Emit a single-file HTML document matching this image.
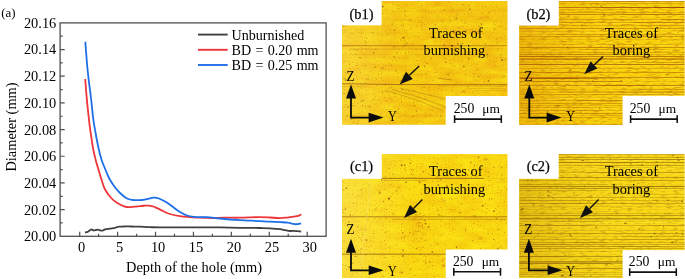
<!DOCTYPE html>
<html><head><meta charset="utf-8"><title>Figure</title>
<style>html,body{margin:0;padding:0;background:#fff;}body{width:685px;height:279px;position:relative;overflow:hidden}</style>
</head><body>
<svg width="685" height="279" viewBox="0 0 685 279" style="position:absolute;left:0;top:0;font-family:'Liberation Serif','DejaVu Serif',serif;font-size:14.4px">
<rect width="685" height="279" fill="#fff"/>
<g id="plot">
<path d="M85.0,232.5C85.5,232.4 87.0,232.2 88.0,231.7C89.0,231.2 90.2,229.8 91.0,229.5C91.8,229.2 92.0,229.7 92.5,229.9C93.0,230.1 93.4,230.5 94.0,230.5C94.6,230.5 95.3,230.1 96.0,230.0C96.7,229.9 97.3,229.6 98.0,229.7C98.7,229.8 99.3,230.1 100.0,230.3C100.7,230.5 101.3,230.8 102.0,230.7C102.7,230.6 103.3,230.1 104.0,229.8C104.7,229.5 105.0,229.3 106.0,229.1C107.0,228.9 108.7,228.8 110.0,228.6C111.3,228.4 112.8,228.3 114.0,228.1C115.2,227.9 116.2,227.4 117.0,227.2C117.8,227.0 117.8,226.8 119.0,226.7C120.2,226.6 122.5,226.6 124.0,226.5C125.5,226.4 126.3,226.3 128.0,226.3C129.7,226.3 132.0,226.5 134.0,226.6C136.0,226.7 137.3,226.6 140.0,226.7C142.7,226.8 146.7,227.1 150.0,227.2C153.3,227.3 155.0,227.4 160.0,227.4C165.0,227.4 173.3,227.4 180.0,227.4C186.7,227.4 193.3,227.4 200.0,227.4C206.7,227.4 213.3,227.3 220.0,227.4C226.7,227.5 233.3,227.7 240.0,227.8C246.7,227.9 255.0,227.9 260.0,228.0C265.0,228.1 266.7,228.1 270.0,228.3C273.3,228.5 277.5,228.8 280.0,229.1C282.5,229.4 283.3,229.9 285.0,230.2C286.7,230.5 288.5,230.9 290.0,231.0C291.5,231.1 292.8,230.9 294.0,230.9C295.2,230.9 295.8,231.1 297.0,231.2C298.2,231.3 300.5,231.5 301.2,231.6" fill="none" stroke="#404040" stroke-width="1.8" stroke-linejoin="round" stroke-linecap="butt"/>
<path d="M85.2,79.0C85.4,81.2 85.8,87.5 86.2,92.0C86.6,96.5 87.0,101.3 87.5,106.0C88.0,110.7 88.5,115.5 89.0,120.0C89.5,124.5 90.0,128.3 90.7,133.0C91.4,137.7 92.2,143.5 93.0,148.0C93.8,152.5 94.8,156.3 95.7,160.0C96.6,163.7 97.7,167.0 98.6,170.0C99.5,173.0 100.0,174.8 101.0,178.0C102.0,181.2 103.1,185.7 104.8,189.0C106.5,192.3 109.1,195.7 111.2,198.0C113.3,200.3 115.0,201.7 117.3,203.1C119.6,204.5 122.6,205.9 124.8,206.6C127.0,207.3 128.6,207.1 130.5,207.1C132.4,207.1 134.4,206.8 136.0,206.6C137.6,206.4 138.5,206.2 140.0,206.1C141.5,205.9 143.5,205.8 145.0,205.7C146.5,205.6 147.7,205.6 149.0,205.7C150.3,205.8 151.8,206.2 153.0,206.5C154.2,206.8 154.3,206.9 156.0,207.7C157.7,208.4 160.7,209.9 163.0,211.0C165.3,212.1 167.2,213.2 170.0,214.0C172.8,214.8 176.7,215.6 180.0,216.1C183.3,216.6 186.7,216.8 190.0,217.1C193.3,217.4 196.3,217.5 200.0,217.7C203.7,217.9 208.0,218.1 212.0,218.1C216.0,218.1 219.3,217.8 224.0,217.7C228.7,217.6 234.0,217.8 240.0,217.7C246.0,217.6 255.0,217.1 260.0,217.1C265.0,217.1 266.7,217.3 270.0,217.5C273.3,217.7 277.3,218.1 280.0,218.1C282.7,218.1 284.3,217.9 286.0,217.7C287.7,217.5 288.7,217.3 290.0,217.1C291.3,216.9 292.8,216.9 294.0,216.7C295.2,216.5 296.1,216.3 297.0,216.1C297.9,215.9 298.8,215.6 299.5,215.3C300.2,215.0 300.9,214.5 301.2,214.3" fill="none" stroke="#ee363a" stroke-width="1.8" stroke-linejoin="round" stroke-linecap="butt"/>
<path d="M85.4,41.7C85.4,42.4 85.4,43.6 85.6,46.0C85.8,48.4 86.1,52.0 86.4,56.0C86.7,60.0 87.1,65.3 87.6,70.0C88.1,74.7 88.6,79.3 89.2,84.0C89.8,88.7 90.3,92.0 91.0,98.0C91.7,104.0 92.6,114.2 93.4,120.0C94.2,125.8 94.8,128.3 95.6,133.0C96.4,137.7 97.5,143.5 98.5,148.0C99.5,152.5 100.4,156.3 101.6,160.0C102.8,163.7 104.4,167.0 105.6,170.0C106.8,173.0 107.6,175.3 109.0,178.0C110.4,180.7 112.2,183.5 114.0,186.0C115.8,188.5 117.8,190.9 120.0,193.0C122.2,195.1 124.8,197.3 127.0,198.5C129.2,199.7 131.2,199.7 133.0,200.0C134.8,200.3 136.5,200.2 138.0,200.2C139.5,200.2 140.3,200.2 142.0,200.0C143.7,199.8 146.2,199.3 148.0,198.9C149.8,198.5 151.7,197.9 153.0,197.7C154.3,197.5 155.0,197.7 156.0,197.8C157.0,197.9 157.3,197.8 159.0,198.5C160.7,199.2 163.7,200.6 166.0,202.0C168.3,203.4 170.7,205.3 173.0,207.0C175.3,208.7 177.7,210.6 180.0,212.0C182.3,213.4 184.7,214.7 187.0,215.5C189.3,216.3 191.5,216.6 194.0,216.9C196.5,217.2 199.3,217.1 202.0,217.2C204.7,217.3 207.0,217.1 210.0,217.3C213.0,217.5 215.0,218.0 220.0,218.5C225.0,219.0 233.3,219.7 240.0,220.1C246.7,220.5 255.0,220.8 260.0,221.1C265.0,221.4 266.7,221.5 270.0,221.7C273.3,221.9 277.0,221.9 280.0,222.1C283.0,222.3 286.0,222.4 288.0,222.7C290.0,222.9 290.8,223.3 292.0,223.6C293.2,223.8 294.0,224.1 295.0,224.2C296.0,224.3 297.0,224.2 298.0,224.1C299.0,223.9 300.7,223.4 301.2,223.3" fill="none" stroke="#1f6fe8" stroke-width="1.8" stroke-linejoin="round" stroke-linecap="butt"/>
<rect x="60.1" y="22.9" width="266.0" height="213.4" fill="none" stroke="#505050" stroke-width="1.3"/>
<path d="M79.70,236.3v-4.6 M117.62,236.3v-4.6 M155.53,236.3v-4.6 M193.44,236.3v-4.6 M231.36,236.3v-4.6 M269.28,236.3v-4.6 M307.19,236.3v-4.6 M98.66,236.3v-2.6 M136.57,236.3v-2.6 M174.49,236.3v-2.6 M212.40,236.3v-2.6 M250.32,236.3v-2.6 M288.23,236.3v-2.6 M60.1,209.62h4.6 M60.1,182.94h4.6 M60.1,156.26h4.6 M60.1,129.58h4.6 M60.1,102.90h4.6 M60.1,76.22h4.6 M60.1,49.54h4.6 M60.1,222.96h2.6 M60.1,196.28h2.6 M60.1,169.60h2.6 M60.1,142.92h2.6 M60.1,116.24h2.6 M60.1,89.56h2.6 M60.1,62.88h2.6 M60.1,36.20h2.6" stroke="#505050" stroke-width="1.2" fill="none"/>
<text x="56.3" y="241.2" text-anchor="end">20.00</text>
<text x="56.3" y="214.5" text-anchor="end">20.02</text>
<text x="56.3" y="187.8" text-anchor="end">20.04</text>
<text x="56.3" y="161.2" text-anchor="end">20.06</text>
<text x="56.3" y="134.5" text-anchor="end">20.08</text>
<text x="56.3" y="107.8" text-anchor="end">20.10</text>
<text x="56.3" y="81.1" text-anchor="end">20.12</text>
<text x="56.3" y="54.4" text-anchor="end">20.14</text>
<text x="56.3" y="27.8" text-anchor="end">20.16</text>
<text x="81.7" y="252.3" text-anchor="middle">0</text>
<text x="119.6" y="252.3" text-anchor="middle">5</text>
<text x="158.1" y="252.3" text-anchor="middle">10</text>
<text x="196.0" y="252.3" text-anchor="middle">15</text>
<text x="234.0" y="252.3" text-anchor="middle">20</text>
<text x="271.9" y="252.3" text-anchor="middle">25</text>
<text x="309.8" y="252.3" text-anchor="middle">30</text>
<text x="194.0" y="272.2" text-anchor="middle">Depth of the hole (mm)</text>
<text transform="translate(15.8,127.0) rotate(-90)" text-anchor="middle">Diameter (mm)</text>
<text x="1.2" y="17.3" font-size="12.9">(a)</text>
<path d="M198,34.6H227.7" stroke="#404040" stroke-width="1.9"/>
<text x="231.5" y="39.6" font-size="14.1" style="word-spacing:0.8px">Unburnished</text>
<path d="M198,49.8H227.7" stroke="#ee3338" stroke-width="1.9"/>
<text x="231.5" y="54.8" font-size="14.1" style="word-spacing:0.8px">BD = 0.20 mm</text>
<path d="M198,65.0H227.7" stroke="#1f6fe8" stroke-width="1.9"/>
<text x="231.5" y="70.0" font-size="14.1" style="word-spacing:0.8px">BD = 0.25 mm</text>
</g>
<defs>
<filter id="fb1" x="0" y="0" width="100%" height="100%" color-interpolation-filters="sRGB"><feTurbulence type="fractalNoise" baseFrequency="0.05 0.14" numOctaves="3" seed="5" result="n"/><feColorMatrix in="n" type="matrix" values="0.03 0 0 0 0.945  0.20 0 0 0 0.685  0.03 0 0 0 0.055  0 0 0 0 1"/></filter>
<filter id="fc1" x="0" y="0" width="100%" height="100%" color-interpolation-filters="sRGB"><feTurbulence type="fractalNoise" baseFrequency="0.05 0.12" numOctaves="3" seed="11" result="n"/><feColorMatrix in="n" type="matrix" values="0.02 0 0 0 0.965  0.14 0 0 0 0.775  0.03 0 0 0 0.05  0 0 0 0 1"/></filter>
<filter id="gr1" x="0" y="0" width="100%" height="100%" color-interpolation-filters="sRGB"><feTurbulence type="fractalNoise" baseFrequency="0.75" numOctaves="2" seed="4" result="n"/><feColorMatrix in="n" type="matrix" values="0 0 0 0 0.80  0 0 0 0 0.50  0 0 0 0 0.04  3.6 0 0 0 -2.3"/></filter>
<filter id="gr2" x="0" y="0" width="100%" height="100%" color-interpolation-filters="sRGB"><feTurbulence type="fractalNoise" baseFrequency="0.75" numOctaves="2" seed="14" result="n"/><feColorMatrix in="n" type="matrix" values="0 0 0 0 0.84  0 0 0 0 0.52  0 0 0 0 0.04  3.6 0 0 0 -2.3"/></filter>
<filter id="fl" x="0" y="0" width="100%" height="100%" color-interpolation-filters="sRGB"><feTurbulence type="fractalNoise" baseFrequency="0.15 0.7" numOctaves="2" seed="2" result="n"/><feColorMatrix in="n" type="matrix" values="0 0 0 0 0.70  0 0 0 0 0.42  0 0 0 0 0.02  1.5 0 0 0 -0.72"/></filter>
<filter id="fl2" x="0" y="0" width="100%" height="100%" color-interpolation-filters="sRGB"><feTurbulence type="fractalNoise" baseFrequency="0.15 0.7" numOctaves="2" seed="9" result="n"/><feColorMatrix in="n" type="matrix" values="0 0 0 0 0.68  0 0 0 0 0.50  0 0 0 0 0.03  1.5 0 0 0 -0.74"/></filter>
<linearGradient id="gb1" x1="0" x2="1" y1="0" y2="0"><stop offset="0" stop-color="#fde46a" stop-opacity="0.35"/><stop offset="1" stop-color="#fde46a" stop-opacity="0"/></linearGradient>
<linearGradient id="gc1" x1="0" x2="1" y1="0" y2="0"><stop offset="0" stop-color="#fbe870" stop-opacity="0.45"/><stop offset="1" stop-color="#fbe870" stop-opacity="0"/></linearGradient>
<radialGradient id="rc1"><stop offset="0" stop-color="#e88a10" stop-opacity="0.18"/><stop offset="1" stop-color="#ee9a10" stop-opacity="0"/></radialGradient>
<linearGradient id="gb2" x1="0" x2="1" y1="0" y2="0"><stop offset="0" stop-color="#c87000" stop-opacity="0.28"/><stop offset="0.2" stop-color="#c87000" stop-opacity="0.14"/><stop offset="0.45" stop-color="#c87000" stop-opacity="0.03"/><stop offset="0.7" stop-color="#c87000" stop-opacity="0"/></linearGradient>
<linearGradient id="gc2" x1="0" x2="1" y1="0" y2="0"><stop offset="0" stop-color="#a06800" stop-opacity="0.24"/><stop offset="0.3" stop-color="#a06800" stop-opacity="0.08"/><stop offset="0.6" stop-color="#a06800" stop-opacity="0"/></linearGradient>
</defs>
<g id="b1">
<rect x="342" y="1.1" width="165.3" height="123.4" fill="#f4bd1c"/>
<clipPath id="cpb1"><rect x="342" y="1.1" width="165.3" height="123.4"/></clipPath><g clip-path="url(#cpb1)">
<rect x="342" y="1.1" width="165.3" height="123.4" filter="url(#fb1)" />
<rect x="342" y="1" width="60" height="124" fill="url(#gb1)"/><path d="M385,90.5Q412,97 443,111M392,89.5Q420,96 449,108.5M400,88Q440,98 470,104" stroke="#a87414" stroke-width="0.7" fill="none" opacity="0.6"/>
<rect x="342" y="1.1" width="165.3" height="123.4" filter="url(#gr1)" />
<ellipse cx="381.9" cy="68.2" rx="1.5" ry="1.2" fill="#b07010" opacity="0.23"/>
<ellipse cx="353.7" cy="3.7" rx="2.2" ry="0.9" fill="#b07010" opacity="0.16"/>
<ellipse cx="505.6" cy="59.2" rx="2.2" ry="1.1" fill="#b07010" opacity="0.24"/>
<ellipse cx="367.6" cy="79.2" rx="2.2" ry="1.1" fill="#b07010" opacity="0.25"/>
<ellipse cx="452.6" cy="9.9" rx="2.1" ry="1.2" fill="#b07010" opacity="0.17"/>
<ellipse cx="348.1" cy="107.2" rx="1.7" ry="1.3" fill="#b07010" opacity="0.28"/>
<ellipse cx="459.6" cy="113.9" rx="1.6" ry="1.3" fill="#b07010" opacity="0.20"/>
<ellipse cx="495.8" cy="108.8" rx="1.1" ry="0.8" fill="#b07010" opacity="0.16"/>
<ellipse cx="500.7" cy="55.1" rx="1.9" ry="0.9" fill="#b07010" opacity="0.21"/>
<ellipse cx="406.0" cy="44.7" rx="1.8" ry="1.2" fill="#b07010" opacity="0.28"/>
<ellipse cx="454.4" cy="114.9" rx="2.2" ry="1.5" fill="#b07010" opacity="0.24"/>
<ellipse cx="369.6" cy="106.6" rx="2.4" ry="1.4" fill="#b07010" opacity="0.22"/>
<ellipse cx="459.6" cy="27.7" rx="2.2" ry="1.2" fill="#b07010" opacity="0.17"/>
<ellipse cx="353.4" cy="105.8" rx="2.4" ry="0.8" fill="#b07010" opacity="0.26"/>
<ellipse cx="410.0" cy="20.4" rx="1.4" ry="1.3" fill="#b07010" opacity="0.28"/>
<ellipse cx="350.2" cy="76.7" rx="1.1" ry="1.3" fill="#b07010" opacity="0.18"/>
<ellipse cx="486.9" cy="121.1" rx="1.7" ry="1.5" fill="#b07010" opacity="0.18"/>
<ellipse cx="355.6" cy="74.9" rx="1.0" ry="0.9" fill="#b07010" opacity="0.19"/>
<ellipse cx="442.7" cy="21.1" rx="1.1" ry="1.4" fill="#b07010" opacity="0.18"/>
<ellipse cx="499.5" cy="111.0" rx="1.5" ry="1.1" fill="#b07010" opacity="0.21"/>
<ellipse cx="448.1" cy="74.4" rx="1.8" ry="1.2" fill="#b07010" opacity="0.29"/>
<ellipse cx="425.8" cy="54.4" rx="2.0" ry="0.9" fill="#b07010" opacity="0.17"/>
<ellipse cx="502.7" cy="65.4" rx="1.8" ry="0.7" fill="#b07010" opacity="0.19"/>
<ellipse cx="437.7" cy="4.5" rx="1.9" ry="1.2" fill="#b07010" opacity="0.13"/>
<ellipse cx="445.4" cy="58.7" rx="2.0" ry="1.0" fill="#b07010" opacity="0.25"/>
<ellipse cx="463.5" cy="4.8" rx="1.1" ry="1.2" fill="#b07010" opacity="0.29"/>
<ellipse cx="384.0" cy="57.5" rx="1.8" ry="1.0" fill="#b07010" opacity="0.19"/>
<ellipse cx="394.1" cy="46.9" rx="1.8" ry="0.9" fill="#b07010" opacity="0.19"/>
<ellipse cx="469.1" cy="5.4" rx="1.8" ry="1.3" fill="#b07010" opacity="0.18"/>
<ellipse cx="379.3" cy="99.7" rx="1.3" ry="0.8" fill="#b07010" opacity="0.20"/>
<ellipse cx="457.0" cy="14.5" rx="1.5" ry="1.0" fill="#b07010" opacity="0.27"/>
<ellipse cx="414.6" cy="106.0" rx="1.2" ry="1.0" fill="#b07010" opacity="0.24"/>
<ellipse cx="487.5" cy="56.9" rx="1.3" ry="0.8" fill="#b07010" opacity="0.22"/>
<ellipse cx="374.2" cy="100.0" rx="2.2" ry="0.8" fill="#b07010" opacity="0.17"/>
<ellipse cx="474.8" cy="80.0" rx="2.1" ry="1.0" fill="#b07010" opacity="0.14"/>
<ellipse cx="390.7" cy="98.5" rx="1.4" ry="1.0" fill="#b07010" opacity="0.20"/>
<ellipse cx="411.5" cy="51.8" rx="2.3" ry="0.8" fill="#b07010" opacity="0.12"/>
<ellipse cx="497.0" cy="108.9" rx="2.4" ry="1.0" fill="#b07010" opacity="0.29"/>
<path d="M342,45.7L507,45.7" stroke="#b06810" stroke-width="0.9" opacity="0.8"/>
<path d="M350,49.1L425,49.1" stroke="#b87414" stroke-width="0.7" opacity="0.6"/>
<path d="M425,49.1L507,49.1" stroke="#c08414" stroke-width="0.6" opacity="0.35"/>
<path d="M342,83.7L400,84.6" stroke="#a86810" stroke-width="1.0" opacity="0.85"/>
<path d="M400,84.6L507,84.6" stroke="#a86810" stroke-width="1.0" opacity="0.85"/>
<path d="M342,86.6L366,86.8" stroke="#c08414" stroke-width="0.6" opacity="0.45"/>
<path d="M437,85.8L507,86.2" stroke="#b07410" stroke-width="0.6" opacity="0.5"/>
<path d="M468,88.3L507,88.3" stroke="#b07410" stroke-width="0.6" opacity="0.5"/>
<path d="M476,90.3L507,90.3" stroke="#b07410" stroke-width="0.6" opacity="0.45"/>
<path d="M438,78.2L452,80.0" stroke="#a06010" stroke-width="0.8" opacity="0.6"/>
<path d="M342,54.8L507,54.8" stroke="#c89018" stroke-width="0.5" opacity="0.35"/>
<path d="M342,57.2L507,57.2" stroke="#c89018" stroke-width="0.5" opacity="0.25"/>
<path d="M342,33L507,33" stroke="#c89018" stroke-width="0.5" opacity="0.3"/>
<path d="M342,116L445,116" stroke="#c89018" stroke-width="0.6" opacity="0.4"/>
<path d="M342,11L507,11" stroke="#c89018" stroke-width="0.5" opacity="0.3"/>
<path d="M342,20L507,20" stroke="#c89018" stroke-width="0.5" opacity="0.3"/>
<circle cx="494.4" cy="29.1" r="0.7" fill="#94580c" opacity="0.86"/>
<circle cx="451.3" cy="65.1" r="0.45" fill="#a86c10" opacity="0.59"/>
<circle cx="380.1" cy="10.4" r="0.6" fill="#b87414" opacity="0.47"/>
<circle cx="382.9" cy="6.4" r="0.9" fill="#a86c10" opacity="0.91"/>
<circle cx="489.4" cy="111.3" r="0.6" fill="#b07010" opacity="0.41"/>
<circle cx="464.7" cy="23.0" r="0.45" fill="#a06410" opacity="0.76"/>
<circle cx="428.7" cy="52.3" r="0.6" fill="#b07010" opacity="0.59"/>
<circle cx="384.2" cy="106.7" r="0.5" fill="#b07010" opacity="0.59"/>
<circle cx="375.2" cy="67.0" r="0.9" fill="#b07010" opacity="0.49"/>
<circle cx="472.3" cy="114.0" r="0.9" fill="#a06410" opacity="0.85"/>
<circle cx="344.2" cy="78.4" r="0.9" fill="#94580c" opacity="0.43"/>
<circle cx="387.3" cy="34.7" r="0.6" fill="#a86c10" opacity="0.63"/>
<circle cx="420.2" cy="96.4" r="0.35" fill="#b07010" opacity="0.83"/>
<circle cx="350.5" cy="8.1" r="0.5" fill="#b07010" opacity="0.87"/>
<circle cx="357.1" cy="63.1" r="0.45" fill="#a06410" opacity="0.57"/>
<circle cx="400.4" cy="80.6" r="0.6" fill="#b87414" opacity="0.60"/>
<circle cx="374.2" cy="42.0" r="0.35" fill="#a06410" opacity="0.71"/>
<circle cx="459.9" cy="48.3" r="0.35" fill="#a86c10" opacity="0.50"/>
<circle cx="404.0" cy="75.5" r="0.9" fill="#a86c10" opacity="0.61"/>
<circle cx="473.8" cy="77.7" r="0.5" fill="#b07010" opacity="0.60"/>
<circle cx="424.0" cy="87.4" r="0.5" fill="#94580c" opacity="0.65"/>
<circle cx="383.0" cy="67.2" r="0.7" fill="#a86c10" opacity="0.44"/>
<circle cx="412.4" cy="53.8" r="0.35" fill="#b87414" opacity="0.61"/>
<circle cx="489.6" cy="98.1" r="0.45" fill="#b07010" opacity="0.66"/>
<circle cx="363.1" cy="100.8" r="0.7" fill="#a86c10" opacity="0.84"/>
<circle cx="452.0" cy="91.2" r="0.6" fill="#a86c10" opacity="0.46"/>
<circle cx="439.0" cy="2.7" r="0.4" fill="#a06410" opacity="0.83"/>
<circle cx="350.2" cy="13.2" r="0.35" fill="#94580c" opacity="0.50"/>
<circle cx="346.8" cy="104.3" r="0.35" fill="#b07010" opacity="0.86"/>
<circle cx="453.0" cy="103.6" r="0.45" fill="#a86c10" opacity="0.56"/>
<circle cx="357.5" cy="123.0" r="0.6" fill="#a86c10" opacity="0.69"/>
<circle cx="381.9" cy="69.4" r="0.35" fill="#a86c10" opacity="0.43"/>
<circle cx="395.9" cy="70.6" r="0.9" fill="#b07010" opacity="0.53"/>
<circle cx="372.4" cy="32.4" r="0.6" fill="#94580c" opacity="0.54"/>
<circle cx="440.9" cy="116.1" r="0.6" fill="#94580c" opacity="0.93"/>
<circle cx="404.3" cy="30.7" r="0.5" fill="#a06410" opacity="0.63"/>
<circle cx="435.8" cy="72.5" r="0.6" fill="#94580c" opacity="0.49"/>
<circle cx="408.5" cy="109.8" r="0.4" fill="#b07010" opacity="0.67"/>
<circle cx="422.0" cy="86.9" r="0.5" fill="#a86c10" opacity="0.80"/>
<circle cx="373.4" cy="34.6" r="0.4" fill="#a06410" opacity="0.72"/>
<circle cx="394.4" cy="30.3" r="0.7" fill="#a86c10" opacity="0.92"/>
<circle cx="391.3" cy="87.7" r="0.5" fill="#a86c10" opacity="0.87"/>
<circle cx="438.5" cy="34.5" r="0.4" fill="#b87414" opacity="0.41"/>
<circle cx="421.3" cy="48.6" r="0.4" fill="#a86c10" opacity="0.60"/>
<circle cx="395.6" cy="96.1" r="0.4" fill="#94580c" opacity="0.95"/>
<circle cx="421.3" cy="74.8" r="0.5" fill="#a86c10" opacity="0.86"/>
<circle cx="477.2" cy="69.7" r="0.5" fill="#b07010" opacity="0.87"/>
<circle cx="408.4" cy="91.2" r="0.35" fill="#94580c" opacity="0.90"/>
<circle cx="488.5" cy="80.8" r="0.9" fill="#b07010" opacity="0.93"/>
<circle cx="482.4" cy="31.5" r="0.4" fill="#b87414" opacity="0.48"/>
<circle cx="444.6" cy="84.1" r="0.35" fill="#b87414" opacity="0.49"/>
<circle cx="350.4" cy="24.3" r="0.35" fill="#b07010" opacity="0.46"/>
<circle cx="386.1" cy="113.0" r="0.35" fill="#b87414" opacity="0.65"/>
<circle cx="462.9" cy="43.0" r="0.35" fill="#b87414" opacity="0.58"/>
<circle cx="405.0" cy="11.6" r="0.7" fill="#a86c10" opacity="0.81"/>
<circle cx="423.0" cy="17.3" r="0.45" fill="#b07010" opacity="0.89"/>
<circle cx="355.5" cy="54.6" r="0.5" fill="#a86c10" opacity="0.90"/>
<circle cx="358.8" cy="116.4" r="0.45" fill="#b87414" opacity="0.82"/>
<circle cx="391.3" cy="84.2" r="0.7" fill="#b87414" opacity="0.46"/>
<circle cx="497.2" cy="43.2" r="0.6" fill="#a86c10" opacity="0.69"/>
<circle cx="451.9" cy="63.9" r="0.35" fill="#b87414" opacity="0.77"/>
<circle cx="435.5" cy="24.2" r="0.7" fill="#a06410" opacity="0.50"/>
<circle cx="488.3" cy="81.7" r="0.35" fill="#b07010" opacity="0.91"/>
<circle cx="366.1" cy="42.3" r="0.7" fill="#a86c10" opacity="0.63"/>
<circle cx="392.1" cy="24.8" r="0.5" fill="#b87414" opacity="0.83"/>
<circle cx="458.2" cy="15.1" r="0.4" fill="#a86c10" opacity="0.70"/>
<circle cx="463.8" cy="45.7" r="0.45" fill="#b87414" opacity="0.61"/>
<circle cx="485.5" cy="7.2" r="0.6" fill="#b87414" opacity="0.54"/>
<circle cx="468.6" cy="45.1" r="0.45" fill="#94580c" opacity="0.65"/>
<circle cx="475.1" cy="10.5" r="0.5" fill="#b07010" opacity="0.48"/>
<circle cx="439.4" cy="84.8" r="0.6" fill="#b07010" opacity="0.50"/>
<circle cx="373.9" cy="52.7" r="0.7" fill="#94580c" opacity="0.85"/>
<circle cx="465.3" cy="74.0" r="0.4" fill="#94580c" opacity="0.84"/>
<circle cx="432.0" cy="22.8" r="0.4" fill="#a06410" opacity="0.88"/>
<circle cx="403.4" cy="37.7" r="0.9" fill="#94580c" opacity="0.89"/>
<circle cx="498.0" cy="48.6" r="0.6" fill="#a86c10" opacity="0.57"/>
<circle cx="424.3" cy="66.3" r="0.7" fill="#b87414" opacity="0.89"/>
<circle cx="452.0" cy="5.8" r="0.4" fill="#b07010" opacity="0.46"/>
<circle cx="466.4" cy="30.5" r="0.4" fill="#a86c10" opacity="0.74"/>
<circle cx="375.5" cy="97.1" r="0.4" fill="#b07010" opacity="0.85"/>
<circle cx="494.2" cy="117.0" r="0.35" fill="#a86c10" opacity="0.56"/>
<circle cx="450.4" cy="20.6" r="0.5" fill="#b07010" opacity="0.74"/>
<circle cx="351.3" cy="45.8" r="0.4" fill="#a86c10" opacity="0.44"/>
<circle cx="431.0" cy="115.0" r="0.45" fill="#b87414" opacity="0.88"/>
<circle cx="456.4" cy="18.4" r="0.9" fill="#a86c10" opacity="0.83"/>
<circle cx="348.5" cy="11.8" r="0.45" fill="#a06410" opacity="0.91"/>
<circle cx="483.7" cy="55.2" r="0.9" fill="#a06410" opacity="0.67"/>
<circle cx="360.8" cy="7.3" r="0.35" fill="#a06410" opacity="0.79"/>
<circle cx="406.9" cy="59.6" r="0.35" fill="#a86c10" opacity="0.87"/>
<circle cx="377.0" cy="61.5" r="0.35" fill="#94580c" opacity="0.65"/>
<circle cx="455.9" cy="55.3" r="0.5" fill="#b07010" opacity="0.80"/>
<circle cx="402.9" cy="47.1" r="0.6" fill="#b87414" opacity="0.73"/>
<circle cx="379.6" cy="2.4" r="0.4" fill="#b87414" opacity="0.83"/>
<circle cx="366.4" cy="57.9" r="0.4" fill="#a06410" opacity="0.52"/>
<circle cx="370.9" cy="51.1" r="0.4" fill="#b07010" opacity="0.48"/>
<circle cx="442.4" cy="55.8" r="0.4" fill="#b07010" opacity="0.86"/>
<circle cx="408.8" cy="40.7" r="0.35" fill="#b07010" opacity="0.53"/>
<circle cx="349.4" cy="62.0" r="0.4" fill="#a06410" opacity="0.45"/>
<circle cx="420.5" cy="22.1" r="0.6" fill="#b07010" opacity="0.59"/>
<circle cx="363.2" cy="8.4" r="0.7" fill="#b87414" opacity="0.55"/>
<circle cx="471.7" cy="58.6" r="0.45" fill="#94580c" opacity="0.54"/>
<circle cx="386.4" cy="101.0" r="0.7" fill="#b87414" opacity="0.57"/>
<circle cx="352.3" cy="55.0" r="0.35" fill="#a86c10" opacity="0.74"/>
<circle cx="360.1" cy="84.8" r="0.35" fill="#a06410" opacity="0.68"/>
<circle cx="421.7" cy="25.1" r="0.6" fill="#b87414" opacity="0.51"/>
<circle cx="502.0" cy="60.0" r="0.9" fill="#94580c" opacity="0.90"/>
<circle cx="496.5" cy="6.3" r="0.45" fill="#a86c10" opacity="0.75"/>
<circle cx="407.4" cy="117.1" r="0.4" fill="#94580c" opacity="0.46"/>
<circle cx="406.7" cy="42.7" r="0.7" fill="#94580c" opacity="0.50"/>
<circle cx="463.8" cy="91.2" r="0.9" fill="#a86c10" opacity="0.60"/>
<circle cx="373.0" cy="99.4" r="0.5" fill="#a06410" opacity="0.64"/>
<circle cx="457.8" cy="44.0" r="0.9" fill="#a06410" opacity="0.68"/>
<circle cx="465.9" cy="113.2" r="0.7" fill="#94580c" opacity="0.92"/>
<circle cx="350.0" cy="22.9" r="0.9" fill="#b07010" opacity="0.85"/>
<circle cx="358.0" cy="86.1" r="0.7" fill="#b07010" opacity="0.58"/>
<circle cx="441.1" cy="99.4" r="0.35" fill="#a86c10" opacity="0.88"/>
<circle cx="416.5" cy="111.0" r="0.7" fill="#b87414" opacity="0.95"/>
<circle cx="343.3" cy="25.8" r="0.9" fill="#b07010" opacity="0.59"/>
<circle cx="393.8" cy="56.8" r="0.9" fill="#a06410" opacity="0.53"/>
<circle cx="351.0" cy="20.6" r="0.7" fill="#a06410" opacity="0.72"/>
<circle cx="344.9" cy="30.0" r="0.4" fill="#a06410" opacity="0.87"/>
<circle cx="427.2" cy="63.4" r="0.6" fill="#b87414" opacity="0.83"/>
<circle cx="430.4" cy="24.9" r="0.4" fill="#a86c10" opacity="0.44"/>
<circle cx="477.8" cy="15.8" r="0.35" fill="#b07010" opacity="0.51"/>
<circle cx="488.9" cy="12.5" r="0.5" fill="#94580c" opacity="0.52"/>
<circle cx="478.5" cy="76.8" r="0.7" fill="#94580c" opacity="0.82"/>
<circle cx="485.3" cy="44.1" r="0.6" fill="#94580c" opacity="0.83"/>
<circle cx="390.7" cy="116.8" r="0.5" fill="#94580c" opacity="0.51"/>
<circle cx="431.0" cy="58.5" r="0.7" fill="#b07010" opacity="0.59"/>
<circle cx="374.3" cy="93.6" r="0.6" fill="#b87414" opacity="0.63"/>
<circle cx="448.9" cy="75.7" r="0.4" fill="#a06410" opacity="0.59"/>
<circle cx="505.6" cy="42.8" r="0.5" fill="#94580c" opacity="0.45"/>
<circle cx="378.6" cy="22.2" r="0.4" fill="#a06410" opacity="0.88"/>
<circle cx="504.1" cy="76.4" r="0.7" fill="#a86c10" opacity="0.87"/>
<circle cx="403.1" cy="25.3" r="0.6" fill="#94580c" opacity="0.67"/>
<circle cx="469.3" cy="51.5" r="0.6" fill="#b07010" opacity="0.56"/>
<circle cx="495.6" cy="24.5" r="0.35" fill="#b07010" opacity="0.80"/>
<circle cx="391.1" cy="65.2" r="0.7" fill="#94580c" opacity="0.42"/>
<circle cx="464.7" cy="35.6" r="0.5" fill="#b07010" opacity="0.59"/>
<circle cx="464.2" cy="92.8" r="0.45" fill="#a06410" opacity="0.46"/>
<circle cx="391.9" cy="52.0" r="0.35" fill="#a06410" opacity="0.48"/>
<circle cx="467.6" cy="87.1" r="0.5" fill="#b87414" opacity="0.92"/>
<circle cx="413.4" cy="116.2" r="0.5" fill="#a86c10" opacity="0.95"/>
<circle cx="379.4" cy="118.2" r="0.45" fill="#b87414" opacity="0.42"/>
<circle cx="404.0" cy="45.7" r="0.9" fill="#b87414" opacity="0.81"/>
<circle cx="494.9" cy="65.2" r="0.35" fill="#a06410" opacity="0.75"/>
<circle cx="367.4" cy="4.6" r="0.35" fill="#b07010" opacity="0.51"/>
<circle cx="468.7" cy="58.6" r="0.9" fill="#b87414" opacity="0.94"/>
<circle cx="348.7" cy="24.6" r="0.35" fill="#b87414" opacity="0.64"/>
<circle cx="398.2" cy="8.3" r="0.6" fill="#b07010" opacity="0.65"/>
<circle cx="385.7" cy="83.7" r="0.5" fill="#94580c" opacity="0.80"/>
<circle cx="398.4" cy="5.7" r="0.35" fill="#a06410" opacity="0.90"/>
<circle cx="475.0" cy="32.1" r="0.4" fill="#94580c" opacity="0.68"/>
<circle cx="478.7" cy="69.1" r="0.45" fill="#b07010" opacity="0.49"/>
<circle cx="345.8" cy="80.2" r="0.9" fill="#94580c" opacity="0.66"/>
<circle cx="451.7" cy="114.8" r="0.9" fill="#a86c10" opacity="0.68"/>
<circle cx="403.6" cy="78.8" r="0.45" fill="#a06410" opacity="0.44"/>
<circle cx="365.8" cy="103.1" r="0.35" fill="#94580c" opacity="0.83"/>
<circle cx="415.5" cy="35.9" r="0.45" fill="#94580c" opacity="0.56"/>
<circle cx="429.5" cy="72.2" r="0.4" fill="#a86c10" opacity="0.42"/>
<circle cx="422.3" cy="30.1" r="0.5" fill="#a86c10" opacity="0.74"/>
<circle cx="348.0" cy="71.8" r="0.6" fill="#b07010" opacity="0.67"/>
<circle cx="388.7" cy="88.2" r="0.45" fill="#b07010" opacity="0.64"/>
<circle cx="355.4" cy="6.2" r="0.5" fill="#94580c" opacity="0.51"/>
<circle cx="493.4" cy="24.1" r="0.5" fill="#94580c" opacity="0.57"/>
<circle cx="387.2" cy="117.4" r="0.45" fill="#b87414" opacity="0.74"/>
<circle cx="433.7" cy="6.4" r="0.5" fill="#b87414" opacity="0.63"/>
<circle cx="489.9" cy="62.2" r="0.4" fill="#b07010" opacity="0.78"/>
<circle cx="361.8" cy="78.9" r="0.35" fill="#b07010" opacity="0.92"/>
<circle cx="502.1" cy="86.1" r="0.5" fill="#b87414" opacity="0.94"/>
<circle cx="418.4" cy="37.2" r="0.6" fill="#b07010" opacity="0.50"/>
<circle cx="422.5" cy="22.5" r="0.4" fill="#a06410" opacity="0.78"/>
<circle cx="419.3" cy="50.4" r="0.35" fill="#a06410" opacity="0.62"/>
<circle cx="372.4" cy="78.2" r="0.45" fill="#a06410" opacity="0.76"/>
<circle cx="364.4" cy="19.9" r="0.6" fill="#a06410" opacity="0.69"/>
<circle cx="405.4" cy="15.1" r="0.5" fill="#a06410" opacity="0.94"/>
<circle cx="388.8" cy="18.0" r="0.4" fill="#b87414" opacity="0.47"/>
<circle cx="400.5" cy="113.2" r="0.35" fill="#a06410" opacity="0.40"/>
<circle cx="403.6" cy="19.4" r="0.5" fill="#a06410" opacity="0.44"/>
<circle cx="432.2" cy="110.8" r="0.35" fill="#b87414" opacity="0.66"/>
<circle cx="463.8" cy="66.5" r="0.9" fill="#94580c" opacity="0.71"/>
<circle cx="418.8" cy="67.4" r="0.5" fill="#a06410" opacity="0.69"/>
<circle cx="479.0" cy="26.4" r="0.6" fill="#b87414" opacity="0.91"/>
<circle cx="481.5" cy="23.9" r="0.9" fill="#a06410" opacity="0.57"/>
<circle cx="480.2" cy="17.9" r="0.6" fill="#b07010" opacity="0.63"/>
<circle cx="485.5" cy="16.0" r="0.35" fill="#a06410" opacity="0.88"/>
<circle cx="472.7" cy="122.5" r="0.7" fill="#b87414" opacity="0.69"/>
<circle cx="468.1" cy="13.3" r="0.6" fill="#a86c10" opacity="0.64"/>
<circle cx="366.9" cy="75.0" r="0.45" fill="#94580c" opacity="0.68"/>
<circle cx="404.0" cy="40.7" r="0.45" fill="#a86c10" opacity="0.82"/>
<circle cx="461.1" cy="43.9" r="0.7" fill="#b87414" opacity="0.56"/>
<circle cx="502.5" cy="34.8" r="0.35" fill="#a86c10" opacity="0.68"/>
<circle cx="462.6" cy="43.5" r="0.7" fill="#a06410" opacity="0.56"/>
<circle cx="500.9" cy="57.1" r="0.5" fill="#b87414" opacity="0.69"/>
<circle cx="485.9" cy="121.9" r="0.6" fill="#a86c10" opacity="0.64"/>
<circle cx="443.9" cy="10.5" r="0.5" fill="#a86c10" opacity="0.87"/>
<circle cx="470.0" cy="9.3" r="0.9" fill="#94580c" opacity="0.61"/>
<circle cx="503.2" cy="46.6" r="0.4" fill="#b07010" opacity="0.70"/>
<circle cx="487.3" cy="54.4" r="0.9" fill="#94580c" opacity="0.79"/>
<circle cx="402.0" cy="38.6" r="0.6" fill="#b87414" opacity="0.62"/>
<circle cx="403.8" cy="81.2" r="0.35" fill="#a86c10" opacity="0.67"/>
<circle cx="395.8" cy="2.1" r="0.35" fill="#a86c10" opacity="0.40"/>
<circle cx="487.6" cy="27.5" r="0.5" fill="#b87414" opacity="0.51"/>
<circle cx="347.6" cy="91.1" r="0.45" fill="#a86c10" opacity="0.64"/>
<circle cx="402.4" cy="89.6" r="0.9" fill="#a06410" opacity="0.64"/>
<circle cx="454.4" cy="16.8" r="0.5" fill="#a06410" opacity="0.66"/>
<circle cx="488.4" cy="36.9" r="0.4" fill="#b07010" opacity="0.85"/>
<circle cx="440.8" cy="12.4" r="0.35" fill="#b87414" opacity="0.61"/>
<circle cx="423.1" cy="121.8" r="0.5" fill="#b87414" opacity="0.48"/>
<circle cx="376.3" cy="79.3" r="0.6" fill="#b87414" opacity="0.64"/>
<circle cx="358.8" cy="121.0" r="0.7" fill="#b07010" opacity="0.44"/>
<circle cx="486.2" cy="92.7" r="0.45" fill="#b07010" opacity="0.87"/>
<circle cx="396.0" cy="112.9" r="0.7" fill="#b07010" opacity="0.85"/>
<circle cx="397.1" cy="52.9" r="0.6" fill="#a06410" opacity="0.89"/>
<circle cx="376.0" cy="49.7" r="0.35" fill="#b07010" opacity="0.75"/>
<circle cx="347.3" cy="115.6" r="0.6" fill="#a06410" opacity="0.72"/>
<circle cx="356.9" cy="30.3" r="0.5" fill="#a86c10" opacity="0.62"/>
<circle cx="399.2" cy="57.5" r="0.6" fill="#a06410" opacity="0.51"/>
<circle cx="391.8" cy="111.3" r="0.4" fill="#a86c10" opacity="0.69"/>
<circle cx="444.2" cy="45.2" r="0.9" fill="#a86c10" opacity="0.87"/>
<circle cx="463.5" cy="26.8" r="0.35" fill="#94580c" opacity="0.87"/>
<circle cx="445.8" cy="62.0" r="0.9" fill="#a06410" opacity="0.50"/>
<circle cx="359.9" cy="57.6" r="0.6" fill="#94580c" opacity="0.86"/>
<circle cx="394.5" cy="93.7" r="0.45" fill="#94580c" opacity="0.54"/>
<circle cx="486.7" cy="84.8" r="0.7" fill="#b07010" opacity="0.53"/>
<circle cx="402.9" cy="29.2" r="0.45" fill="#b87414" opacity="0.59"/>
<circle cx="351.6" cy="119.3" r="0.7" fill="#b07010" opacity="0.51"/>
<circle cx="392.6" cy="23.1" r="0.4" fill="#a06410" opacity="0.67"/>
<circle cx="377.1" cy="100.5" r="0.45" fill="#a86c10" opacity="0.53"/>
<circle cx="454.7" cy="66.5" r="0.6" fill="#a86c10" opacity="0.63"/>
</g>
<rect x="341.5" y="0.10000000000000009" width="40.1" height="25.2" fill="#fff"/>
<rect x="445.7" y="96.0" width="62.60000000000002" height="29.5" fill="#fff"/>
</g>
<g id="b2">
<rect x="519.2" y="1.1" width="165.19999999999993" height="123.7" fill="#f2c412"/>
<clipPath id="cpb2"><rect x="519.2" y="1.1" width="165.19999999999993" height="123.7"/></clipPath><g clip-path="url(#cpb2)">
<rect x="519.2" y="1.1" width="165.79999999999995" height="123.7" fill="#fad40c"/>
<rect x="519.2" y="1" width="83.8" height="1.0" fill="#98440c" opacity="0.39"/>
<rect x="602.7" y="1" width="41.9" height="1.0" fill="#98440c" opacity="0.51"/>
<rect x="644.3" y="1" width="41.0" height="1.0" fill="#98440c" opacity="0.40"/>
<rect x="519.2" y="2" width="165.79999999999995" height="1" fill="#ffe028" opacity="0.42"/>
<rect x="519.2" y="3" width="63.1" height="1.0" fill="#b06408" opacity="0.05"/>
<rect x="582.0" y="3" width="103.3" height="1.0" fill="#b06408" opacity="0.35"/>
<rect x="519.2" y="7" width="81.9" height="1.0" fill="#98440c" opacity="0.61"/>
<rect x="600.8" y="7" width="53.2" height="1.0" fill="#98440c" opacity="0.80"/>
<rect x="653.7" y="7" width="31.6" height="1.0" fill="#98440c" opacity="0.95"/>
<rect x="519.2" y="8" width="165.79999999999995" height="1" fill="#ffe028" opacity="0.38"/>
<rect x="519.2" y="9" width="65.6" height="1.0" fill="#a85008" opacity="0.25"/>
<rect x="584.5" y="9" width="54.6" height="1.0" fill="#a85008" opacity="0.22"/>
<rect x="638.8" y="9" width="46.5" height="1.0" fill="#a85008" opacity="0.05"/>
<rect x="519.2" y="12" width="41.2" height="1.0" fill="#a04808" opacity="0.40"/>
<rect x="560.1" y="12" width="109.7" height="1.0" fill="#a04808" opacity="0.31"/>
<rect x="669.5" y="12" width="15.8" height="1.0" fill="#a04808" opacity="0.24"/>
<rect x="519.2" y="14" width="103.0" height="1.0" fill="#b06408" opacity="0.37"/>
<rect x="621.9" y="14" width="63.4" height="1.0" fill="#b06408" opacity="0.64"/>
<rect x="519.2" y="15" width="165.79999999999995" height="1" fill="#ffe028" opacity="0.48"/>
<rect x="519.2" y="19" width="119.8" height="1.0" fill="#b05a0a" opacity="0.41"/>
<rect x="638.7" y="19" width="23.0" height="1.0" fill="#b05a0a" opacity="0.29"/>
<rect x="661.4" y="19" width="23.9" height="1.0" fill="#b05a0a" opacity="0.65"/>
<rect x="519.2" y="20" width="165.79999999999995" height="1" fill="#ffe028" opacity="0.55"/>
<rect x="519.2" y="22" width="75.9" height="1.0" fill="#b05a0a" opacity="0.55"/>
<rect x="594.8" y="22" width="38.4" height="1.0" fill="#b05a0a" opacity="0.36"/>
<rect x="632.9" y="22" width="52.4" height="1.0" fill="#b05a0a" opacity="0.67"/>
<rect x="519.2" y="23" width="165.79999999999995" height="1" fill="#ffe028" opacity="0.60"/>
<rect x="519.2" y="25" width="26.9" height="1.0" fill="#a04808" opacity="0.42"/>
<rect x="545.8" y="25" width="98.0" height="1.0" fill="#a04808" opacity="0.25"/>
<rect x="643.5" y="25" width="41.8" height="1.0" fill="#a04808" opacity="0.37"/>
<rect x="519.2" y="28" width="116.4" height="1.0" fill="#a04808" opacity="0.43"/>
<rect x="635.3" y="28" width="50.0" height="1.0" fill="#a04808" opacity="0.39"/>
<rect x="519.2" y="29" width="165.79999999999995" height="1" fill="#ffe028" opacity="0.42"/>
<rect x="519.2" y="31" width="64.2" height="1.0" fill="#a85008" opacity="0.21"/>
<rect x="583.1" y="31" width="102.2" height="1.0" fill="#a85008" opacity="0.07"/>
<rect x="519.2" y="32" width="165.79999999999995" height="1" fill="#ffe028" opacity="0.73"/>
<rect x="519.2" y="34" width="37.4" height="1.0" fill="#a04808" opacity="0.05"/>
<rect x="556.3" y="34" width="54.1" height="1.0" fill="#a04808" opacity="0.35"/>
<rect x="610.1" y="34" width="75.2" height="1.0" fill="#a04808" opacity="0.29"/>
<rect x="519.2" y="35" width="165.79999999999995" height="1" fill="#ffe028" opacity="0.43"/>
<rect x="519.2" y="39" width="110.2" height="1.0" fill="#a04808" opacity="0.13"/>
<rect x="629.1" y="39" width="35.7" height="1.0" fill="#a04808" opacity="0.14"/>
<rect x="664.5" y="39" width="20.8" height="1.0" fill="#a04808" opacity="0.18"/>
<rect x="519.2" y="44" width="79.1" height="1.0" fill="#b06408" opacity="0.19"/>
<rect x="598.0" y="44" width="87.3" height="1.0" fill="#b06408" opacity="0.28"/>
<rect x="519.2" y="45" width="165.79999999999995" height="1" fill="#ffe028" opacity="0.66"/>
<rect x="519.2" y="47" width="105.5" height="1.0" fill="#a04808" opacity="0.55"/>
<rect x="624.4" y="47" width="60.9" height="1.0" fill="#a04808" opacity="0.47"/>
<rect x="519.2" y="49" width="60.0" height="1.0" fill="#a85008" opacity="0.11"/>
<rect x="578.9" y="49" width="84.5" height="1.0" fill="#a85008" opacity="0.35"/>
<rect x="663.1" y="49" width="22.2" height="1.0" fill="#a85008" opacity="0.08"/>
<rect x="519.2" y="50" width="165.79999999999995" height="1" fill="#ffe028" opacity="0.45"/>
<rect x="519.2" y="52" width="82.4" height="1.0" fill="#a04808" opacity="0.26"/>
<rect x="601.3" y="52" width="84.0" height="1.0" fill="#a04808" opacity="0.26"/>
<rect x="519.2" y="54" width="107.7" height="1.0" fill="#b06408" opacity="0.63"/>
<rect x="626.6" y="54" width="58.7" height="1.0" fill="#b06408" opacity="0.32"/>
<rect x="519.2" y="55" width="165.79999999999995" height="1" fill="#ffe028" opacity="0.33"/>
<rect x="519.2" y="56" width="45.6" height="1.0" fill="#a04808" opacity="0.77"/>
<rect x="564.5" y="56" width="51.7" height="1.0" fill="#a04808" opacity="0.51"/>
<rect x="615.9" y="56" width="69.4" height="1.0" fill="#a04808" opacity="0.62"/>
<rect x="519.2" y="59" width="69.3" height="1.0" fill="#b06408" opacity="0.70"/>
<rect x="588.2" y="59" width="74.8" height="1.0" fill="#b06408" opacity="0.49"/>
<rect x="662.7" y="59" width="22.6" height="1.0" fill="#b06408" opacity="0.60"/>
<rect x="519.2" y="60" width="165.79999999999995" height="1" fill="#ffe028" opacity="0.45"/>
<rect x="519.2" y="62" width="118.0" height="1.0" fill="#b05a0a" opacity="0.14"/>
<rect x="636.9" y="62" width="48.4" height="1.0" fill="#b05a0a" opacity="0.40"/>
<rect x="519.2" y="63" width="165.79999999999995" height="1" fill="#ffe028" opacity="0.34"/>
<rect x="519.2" y="64" width="70.8" height="1.0" fill="#98440c" opacity="0.71"/>
<rect x="589.7" y="64" width="95.6" height="1.0" fill="#98440c" opacity="0.62"/>
<rect x="519.2" y="65" width="165.79999999999995" height="1" fill="#ffe028" opacity="0.56"/>
<rect x="519.2" y="68" width="25.2" height="1.0" fill="#a85008" opacity="0.18"/>
<rect x="544.1" y="68" width="45.0" height="1.0" fill="#a85008" opacity="0.29"/>
<rect x="588.8" y="68" width="96.5" height="1.0" fill="#a85008" opacity="0.30"/>
<rect x="519.2" y="69" width="165.79999999999995" height="1" fill="#ffe028" opacity="0.42"/>
<rect x="519.2" y="72" width="83.5" height="1.0" fill="#a04808" opacity="0.53"/>
<rect x="602.4" y="72" width="28.8" height="1.0" fill="#a04808" opacity="0.33"/>
<rect x="630.9" y="72" width="54.4" height="1.0" fill="#a04808" opacity="0.43"/>
<rect x="519.2" y="77" width="87.1" height="1.0" fill="#b06408" opacity="0.68"/>
<rect x="606.0" y="77" width="79.3" height="1.0" fill="#b06408" opacity="0.61"/>
<rect x="519.2" y="78" width="165.79999999999995" height="1" fill="#ffe028" opacity="0.76"/>
<rect x="519.2" y="81" width="102.8" height="1.0" fill="#98440c" opacity="0.52"/>
<rect x="621.7" y="81" width="63.6" height="1.0" fill="#98440c" opacity="0.13"/>
<rect x="519.2" y="82" width="165.79999999999995" height="1" fill="#ffe028" opacity="0.46"/>
<rect x="519.2" y="85" width="75.6" height="1.0" fill="#a85008" opacity="0.43"/>
<rect x="594.5" y="85" width="50.6" height="1.0" fill="#a85008" opacity="0.77"/>
<rect x="644.8" y="85" width="40.5" height="1.0" fill="#a85008" opacity="0.58"/>
<rect x="519.2" y="86" width="165.79999999999995" height="1" fill="#ffe028" opacity="0.78"/>
<rect x="519.2" y="89" width="57.5" height="1.0" fill="#b05a0a" opacity="0.31"/>
<rect x="576.4" y="89" width="39.2" height="1.0" fill="#b05a0a" opacity="0.11"/>
<rect x="615.3" y="89" width="23.2" height="1.0" fill="#b05a0a" opacity="0.28"/>
<rect x="638.1" y="89" width="47.2" height="1.0" fill="#b05a0a" opacity="0.46"/>
<rect x="519.2" y="92" width="91.9" height="1.0" fill="#b05a0a" opacity="0.15"/>
<rect x="610.8" y="92" width="74.5" height="1.0" fill="#b05a0a" opacity="0.25"/>
<rect x="519.2" y="93" width="165.79999999999995" height="1" fill="#ffe028" opacity="0.63"/>
<rect x="519.2" y="94" width="47.5" height="1.0" fill="#b06408" opacity="0.44"/>
<rect x="566.4" y="94" width="118.9" height="1.0" fill="#b06408" opacity="0.38"/>
<rect x="519.2" y="97" width="78.3" height="1.0" fill="#b06408" opacity="0.14"/>
<rect x="597.2" y="97" width="64.4" height="1.0" fill="#b06408" opacity="0.17"/>
<rect x="661.3" y="97" width="24.0" height="1.0" fill="#b06408" opacity="0.36"/>
<rect x="519.2" y="98" width="165.79999999999995" height="1" fill="#ffe028" opacity="0.79"/>
<rect x="519.2" y="100" width="57.3" height="1.0" fill="#a85008" opacity="0.27"/>
<rect x="576.2" y="100" width="109.1" height="1.0" fill="#a85008" opacity="0.55"/>
<rect x="519.2" y="101" width="165.79999999999995" height="1" fill="#ffe028" opacity="0.32"/>
<rect x="519.2" y="103" width="44.7" height="1.0" fill="#b06408" opacity="0.43"/>
<rect x="563.6" y="103" width="102.7" height="1.0" fill="#b06408" opacity="0.43"/>
<rect x="666.0" y="103" width="19.3" height="1.0" fill="#b06408" opacity="0.51"/>
<rect x="519.2" y="105" width="35.5" height="1.0" fill="#a04808" opacity="0.21"/>
<rect x="554.4" y="105" width="73.0" height="1.0" fill="#a04808" opacity="0.22"/>
<rect x="627.1" y="105" width="58.2" height="1.0" fill="#a04808" opacity="0.28"/>
<rect x="519.2" y="107" width="49.1" height="1.0" fill="#b05a0a" opacity="0.36"/>
<rect x="568.0" y="107" width="21.2" height="1.0" fill="#b05a0a" opacity="0.43"/>
<rect x="588.9" y="107" width="96.4" height="1.0" fill="#b05a0a" opacity="0.18"/>
<rect x="519.2" y="108" width="165.79999999999995" height="1" fill="#ffe028" opacity="0.71"/>
<rect x="519.2" y="110" width="36.5" height="1.0" fill="#a85008" opacity="0.34"/>
<rect x="555.4" y="110" width="47.8" height="1.0" fill="#a85008" opacity="0.42"/>
<rect x="602.9" y="110" width="60.2" height="1.0" fill="#a85008" opacity="0.12"/>
<rect x="662.9" y="110" width="22.4" height="1.0" fill="#a85008" opacity="0.25"/>
<rect x="519.2" y="111" width="165.79999999999995" height="1" fill="#ffe028" opacity="0.40"/>
<rect x="519.2" y="113" width="62.6" height="1.0" fill="#b06408" opacity="0.53"/>
<rect x="581.5" y="113" width="42.2" height="1.0" fill="#b06408" opacity="0.60"/>
<rect x="623.5" y="113" width="61.8" height="1.0" fill="#b06408" opacity="0.65"/>
<rect x="519.2" y="115" width="69.7" height="1.0" fill="#b05a0a" opacity="0.05"/>
<rect x="588.6" y="115" width="96.7" height="1.0" fill="#b05a0a" opacity="0.31"/>
<rect x="519.2" y="117" width="73.6" height="1.0" fill="#b06408" opacity="0.44"/>
<rect x="592.5" y="117" width="92.8" height="1.0" fill="#b06408" opacity="0.24"/>
<rect x="519.2" y="120" width="37.6" height="1.0" fill="#b05a0a" opacity="0.09"/>
<rect x="556.5" y="120" width="22.8" height="1.0" fill="#b05a0a" opacity="0.13"/>
<rect x="579.0" y="120" width="106.3" height="1.0" fill="#b05a0a" opacity="0.06"/>
<rect x="519.2" y="124" width="75.8" height="1.0" fill="#b06408" opacity="0.38"/>
<rect x="594.7" y="124" width="90.6" height="1.0" fill="#b06408" opacity="0.43"/>
<rect x="519.2" y="125" width="165.79999999999995" height="1" fill="#ffe028" opacity="0.34"/>
<rect x="519.5" y="78" width="58.5" height="1.0" fill="#98480a" opacity="0.85"/>
<rect x="578" y="78" width="20" height="1.0" fill="#98480a" opacity="0.6"/>
<rect x="598" y="78" width="27" height="1.0" fill="#98480a" opacity="0.3"/>
<rect x="519.5" y="36.2" width="165.5" height="0.8" fill="#a05408" opacity="0.5"/>
<rect x="519.5" y="58" width="165.5" height="0.8" fill="#a05408" opacity="0.5"/>
<rect x="560" y="91.5" width="125" height="0.8" fill="#a05408" opacity="0.5"/>
<rect x="560" y="14" width="125" height="0.8" fill="#a86408" opacity="0.45"/>
<rect x="519.2" y="1.1" width="165.79999999999995" height="123.7" filter="url(#fl)"/>
<ellipse cx="618.4" cy="44.9" rx="1.0" ry="0.7" fill="#7a4a08" opacity="0.59"/>
<ellipse cx="683.0" cy="113.1" rx="1.3" ry="0.7" fill="#7a4a08" opacity="0.79"/>
<ellipse cx="641.4" cy="92.4" rx="0.7" ry="0.6" fill="#7a4a08" opacity="0.49"/>
<ellipse cx="682.6" cy="38.1" rx="0.6" ry="0.7" fill="#7a4a08" opacity="0.61"/>
<ellipse cx="596.3" cy="62.3" rx="0.7" ry="0.5" fill="#7a4a08" opacity="0.39"/>
<ellipse cx="655.7" cy="29.1" rx="0.9" ry="0.4" fill="#7a4a08" opacity="0.73"/>
<ellipse cx="553.9" cy="98.1" rx="0.8" ry="0.6" fill="#7a4a08" opacity="0.45"/>
<ellipse cx="543.0" cy="28.7" rx="0.6" ry="0.5" fill="#7a4a08" opacity="0.32"/>
<ellipse cx="647.6" cy="107.6" rx="0.7" ry="0.7" fill="#7a4a08" opacity="0.53"/>
<ellipse cx="599.8" cy="108.0" rx="0.9" ry="0.7" fill="#7a4a08" opacity="0.64"/>
<ellipse cx="524.6" cy="113.6" rx="0.6" ry="0.5" fill="#7a4a08" opacity="0.48"/>
<ellipse cx="612.4" cy="56.6" rx="1.1" ry="0.4" fill="#7a4a08" opacity="0.43"/>
<ellipse cx="537.3" cy="81.9" rx="1.1" ry="0.6" fill="#7a4a08" opacity="0.36"/>
<ellipse cx="666.7" cy="74.6" rx="0.8" ry="0.7" fill="#7a4a08" opacity="0.67"/>
<ellipse cx="560.9" cy="17.9" rx="1.1" ry="0.8" fill="#7a4a08" opacity="0.35"/>
<ellipse cx="621.3" cy="80.7" rx="0.9" ry="0.5" fill="#7a4a08" opacity="0.69"/>
<ellipse cx="601.3" cy="6.0" rx="1.2" ry="0.8" fill="#7a4a08" opacity="0.56"/>
<ellipse cx="521.7" cy="104.7" rx="0.7" ry="0.5" fill="#7a4a08" opacity="0.71"/>
<ellipse cx="530.1" cy="94.1" rx="1.0" ry="0.6" fill="#7a4a08" opacity="0.80"/>
<ellipse cx="558.3" cy="87.8" rx="0.9" ry="0.6" fill="#7a4a08" opacity="0.57"/>
<ellipse cx="591.0" cy="4.7" rx="1.3" ry="0.5" fill="#7a4a08" opacity="0.50"/>
<ellipse cx="592.9" cy="81.0" rx="1.1" ry="0.6" fill="#7a4a08" opacity="0.52"/>
<ellipse cx="558.3" cy="105.8" rx="1.2" ry="0.7" fill="#7a4a08" opacity="0.69"/>
<ellipse cx="668.0" cy="93.3" rx="0.8" ry="0.5" fill="#7a4a08" opacity="0.31"/>
<ellipse cx="564.6" cy="86.4" rx="0.7" ry="0.8" fill="#7a4a08" opacity="0.53"/>
<ellipse cx="553.3" cy="3.4" rx="0.6" ry="0.5" fill="#7a4a08" opacity="0.58"/>
<ellipse cx="547.5" cy="80.4" rx="1.0" ry="0.4" fill="#7a4a08" opacity="0.36"/>
<ellipse cx="634.9" cy="27.4" rx="0.5" ry="0.7" fill="#7a4a08" opacity="0.41"/>
<ellipse cx="613.2" cy="31.9" rx="0.8" ry="0.7" fill="#7a4a08" opacity="0.76"/>
<ellipse cx="634.6" cy="101.0" rx="0.8" ry="0.8" fill="#7a4a08" opacity="0.70"/>
<ellipse cx="632.7" cy="109.7" rx="0.8" ry="0.6" fill="#7a4a08" opacity="0.32"/>
<ellipse cx="586.4" cy="100.3" rx="0.9" ry="0.4" fill="#7a4a08" opacity="0.62"/>
<ellipse cx="647.8" cy="33.4" rx="0.9" ry="0.5" fill="#7a4a08" opacity="0.71"/>
<ellipse cx="567.6" cy="47.3" rx="0.9" ry="0.5" fill="#7a4a08" opacity="0.76"/>
<ellipse cx="568.2" cy="16.1" rx="1.0" ry="0.6" fill="#7a4a08" opacity="0.71"/>
<ellipse cx="542.8" cy="89.9" rx="0.7" ry="0.6" fill="#7a4a08" opacity="0.43"/>
<ellipse cx="631.1" cy="112.4" rx="0.5" ry="0.7" fill="#7a4a08" opacity="0.71"/>
<ellipse cx="604.2" cy="15.0" rx="1.3" ry="0.5" fill="#7a4a08" opacity="0.74"/>
<ellipse cx="639.1" cy="7.8" rx="1.0" ry="0.6" fill="#7a4a08" opacity="0.52"/>
<ellipse cx="646.4" cy="4.4" rx="0.9" ry="0.5" fill="#7a4a08" opacity="0.41"/>
<ellipse cx="547.3" cy="119.4" rx="0.5" ry="0.7" fill="#7a4a08" opacity="0.73"/>
<ellipse cx="678.1" cy="32.4" rx="0.8" ry="0.7" fill="#7a4a08" opacity="0.39"/>
<ellipse cx="635.0" cy="111.5" rx="0.6" ry="0.5" fill="#7a4a08" opacity="0.37"/>
<ellipse cx="580.5" cy="112.0" rx="1.0" ry="0.5" fill="#7a4a08" opacity="0.68"/>
<ellipse cx="634.3" cy="91.6" rx="0.6" ry="0.4" fill="#7a4a08" opacity="0.66"/>
<ellipse cx="570.0" cy="70.2" rx="1.2" ry="0.7" fill="#7a4a08" opacity="0.66"/>
<ellipse cx="524.8" cy="72.4" rx="1.2" ry="0.5" fill="#7a4a08" opacity="0.79"/>
<ellipse cx="645.8" cy="30.2" rx="0.6" ry="0.4" fill="#7a4a08" opacity="0.41"/>
<ellipse cx="581.9" cy="25.2" rx="1.0" ry="0.7" fill="#7a4a08" opacity="0.41"/>
<ellipse cx="547.5" cy="111.9" rx="0.8" ry="0.8" fill="#7a4a08" opacity="0.68"/>
<rect x="519.2" y="1.1" width="165.79999999999995" height="123.7" fill="url(#gb2)"/>
</g>
<rect x="518.7" y="0.10000000000000009" width="40.1" height="25.5" fill="#fff"/>
<rect x="622.6" y="95.8" width="62.799999999999955" height="30.0" fill="#fff"/>
</g>
<g id="c1">
<rect x="342" y="154.3" width="165.3" height="123.5" fill="#f5cb1f"/>
<clipPath id="cpc1"><rect x="342" y="154.3" width="165.3" height="123.5"/></clipPath><g clip-path="url(#cpc1)">
<rect x="342" y="154.3" width="165.3" height="123.5" filter="url(#fc1)" />
<rect x="342" y="154" width="70" height="124" fill="url(#gc1)"/><ellipse cx="417" cy="228" rx="16" ry="24" fill="url(#rc1)"/><circle cx="389" cy="198.7" r="1.1" fill="#8a4a0c" opacity="0.8"/><circle cx="407.5" cy="215.5" r="0.9" fill="#a0500c" opacity="0.8"/><circle cx="414.0" cy="231.8" r="0.5" fill="#c4600c" opacity="0.44"/><circle cx="418.6" cy="231.2" r="0.8" fill="#c4600c" opacity="0.56"/><circle cx="416.3" cy="223.9" r="0.8" fill="#c4600c" opacity="0.43"/><circle cx="415.7" cy="214.9" r="0.6" fill="#c4600c" opacity="0.68"/><circle cx="419.5" cy="222.7" r="0.8" fill="#c4600c" opacity="0.61"/><circle cx="419.9" cy="220.6" r="0.4" fill="#c4600c" opacity="0.54"/><circle cx="413.4" cy="232.6" r="0.4" fill="#c4600c" opacity="0.52"/><circle cx="408.7" cy="245.7" r="0.4" fill="#c4600c" opacity="0.53"/><circle cx="423.1" cy="220.0" r="0.4" fill="#c4600c" opacity="0.49"/><circle cx="419.6" cy="250.0" r="0.5" fill="#c4600c" opacity="0.65"/><circle cx="405.3" cy="236.1" r="0.5" fill="#c4600c" opacity="0.73"/><circle cx="416.2" cy="225.7" r="0.4" fill="#c4600c" opacity="0.42"/><circle cx="414.7" cy="218.5" r="0.8" fill="#c4600c" opacity="0.60"/><circle cx="421.8" cy="238.8" r="0.8" fill="#c4600c" opacity="0.48"/><circle cx="413.4" cy="227.0" r="0.4" fill="#c4600c" opacity="0.61"/><circle cx="410.5" cy="232.4" r="0.5" fill="#c4600c" opacity="0.49"/><circle cx="412.8" cy="206.7" r="0.5" fill="#c4600c" opacity="0.65"/><circle cx="415.1" cy="211.0" r="0.5" fill="#c4600c" opacity="0.59"/><circle cx="414.9" cy="230.5" r="0.5" fill="#c4600c" opacity="0.47"/><circle cx="422.6" cy="227.4" r="0.5" fill="#c4600c" opacity="0.70"/><circle cx="414.3" cy="238.7" r="0.5" fill="#c4600c" opacity="0.69"/><circle cx="424.6" cy="240.5" r="0.5" fill="#c4600c" opacity="0.62"/><circle cx="416.2" cy="228.0" r="0.4" fill="#c4600c" opacity="0.48"/><circle cx="413.4" cy="234.3" r="0.8" fill="#c4600c" opacity="0.50"/><circle cx="419.6" cy="216.6" r="0.5" fill="#c4600c" opacity="0.70"/><circle cx="424.8" cy="220.6" r="0.8" fill="#c4600c" opacity="0.66"/><circle cx="418.3" cy="247.5" r="0.5" fill="#c4600c" opacity="0.61"/><circle cx="412.8" cy="246.9" r="0.6" fill="#c4600c" opacity="0.44"/><circle cx="420.0" cy="214.0" r="0.5" fill="#c4600c" opacity="0.50"/><circle cx="404.1" cy="237.6" r="0.8" fill="#c4600c" opacity="0.52"/><circle cx="418.7" cy="225.9" r="0.6" fill="#c4600c" opacity="0.71"/><circle cx="423.8" cy="215.5" r="0.5" fill="#c4600c" opacity="0.72"/><circle cx="416.5" cy="248.6" r="0.8" fill="#c4600c" opacity="0.74"/><circle cx="418.5" cy="222.8" r="0.8" fill="#c4600c" opacity="0.62"/>
<rect x="342" y="154.3" width="165.3" height="123.5" filter="url(#gr2)" />
<ellipse cx="380.0" cy="272.2" rx="1.2" ry="1.3" fill="#b05a10" opacity="0.14"/>
<ellipse cx="383.4" cy="276.7" rx="1.3" ry="1.2" fill="#b05a10" opacity="0.20"/>
<ellipse cx="417.0" cy="215.4" rx="1.3" ry="1.4" fill="#b05a10" opacity="0.14"/>
<ellipse cx="381.2" cy="157.7" rx="1.4" ry="1.0" fill="#b05a10" opacity="0.28"/>
<ellipse cx="404.9" cy="169.1" rx="1.4" ry="1.5" fill="#b05a10" opacity="0.13"/>
<ellipse cx="444.3" cy="201.1" rx="1.9" ry="1.0" fill="#b05a10" opacity="0.24"/>
<ellipse cx="424.3" cy="234.2" rx="2.3" ry="1.2" fill="#b05a10" opacity="0.15"/>
<ellipse cx="353.5" cy="270.2" rx="1.7" ry="0.9" fill="#b05a10" opacity="0.29"/>
<ellipse cx="437.5" cy="243.9" rx="2.2" ry="0.9" fill="#b05a10" opacity="0.18"/>
<ellipse cx="486.4" cy="171.7" rx="2.1" ry="0.8" fill="#b05a10" opacity="0.24"/>
<ellipse cx="457.7" cy="270.7" rx="2.2" ry="1.1" fill="#b05a10" opacity="0.16"/>
<ellipse cx="367.5" cy="219.5" rx="1.7" ry="0.8" fill="#b05a10" opacity="0.28"/>
<ellipse cx="425.9" cy="240.5" rx="1.3" ry="0.9" fill="#b05a10" opacity="0.12"/>
<ellipse cx="399.0" cy="187.7" rx="1.6" ry="1.0" fill="#b05a10" opacity="0.27"/>
<ellipse cx="488.6" cy="176.6" rx="1.6" ry="0.8" fill="#b05a10" opacity="0.24"/>
<ellipse cx="502.2" cy="179.8" rx="2.1" ry="0.9" fill="#b05a10" opacity="0.12"/>
<ellipse cx="467.8" cy="196.8" rx="1.2" ry="1.0" fill="#b05a10" opacity="0.16"/>
<ellipse cx="410.0" cy="209.5" rx="1.6" ry="1.2" fill="#b05a10" opacity="0.17"/>
<ellipse cx="358.5" cy="165.7" rx="1.1" ry="1.1" fill="#b05a10" opacity="0.18"/>
<ellipse cx="474.9" cy="216.6" rx="2.0" ry="1.5" fill="#b05a10" opacity="0.13"/>
<ellipse cx="345.8" cy="172.4" rx="1.5" ry="1.2" fill="#b05a10" opacity="0.25"/>
<ellipse cx="400.4" cy="272.5" rx="1.0" ry="1.4" fill="#b05a10" opacity="0.16"/>
<ellipse cx="485.9" cy="159.3" rx="2.4" ry="1.3" fill="#b05a10" opacity="0.30"/>
<ellipse cx="437.7" cy="176.9" rx="2.4" ry="1.1" fill="#b05a10" opacity="0.14"/>
<ellipse cx="441.9" cy="215.7" rx="1.7" ry="0.8" fill="#b05a10" opacity="0.14"/>
<ellipse cx="437.8" cy="210.3" rx="1.2" ry="1.1" fill="#b05a10" opacity="0.25"/>
<ellipse cx="459.8" cy="212.6" rx="1.6" ry="1.0" fill="#b05a10" opacity="0.16"/>
<ellipse cx="375.3" cy="209.5" rx="1.2" ry="1.3" fill="#b05a10" opacity="0.25"/>
<ellipse cx="442.9" cy="158.0" rx="1.5" ry="1.0" fill="#b05a10" opacity="0.14"/>
<ellipse cx="501.0" cy="247.1" rx="1.7" ry="1.3" fill="#b05a10" opacity="0.16"/>
<ellipse cx="380.5" cy="219.2" rx="2.0" ry="1.2" fill="#b05a10" opacity="0.12"/>
<ellipse cx="443.1" cy="265.7" rx="2.0" ry="1.4" fill="#b05a10" opacity="0.30"/>
<ellipse cx="379.5" cy="191.3" rx="1.8" ry="1.5" fill="#b05a10" opacity="0.19"/>
<ellipse cx="496.7" cy="258.6" rx="1.7" ry="1.2" fill="#b05a10" opacity="0.29"/>
<ellipse cx="470.9" cy="191.2" rx="2.2" ry="0.9" fill="#b05a10" opacity="0.19"/>
<ellipse cx="499.5" cy="258.2" rx="1.4" ry="0.9" fill="#b05a10" opacity="0.23"/>
<ellipse cx="480.6" cy="238.4" rx="2.3" ry="1.3" fill="#b05a10" opacity="0.27"/>
<ellipse cx="441.8" cy="199.3" rx="1.6" ry="1.1" fill="#b05a10" opacity="0.22"/>
<ellipse cx="479.9" cy="188.0" rx="1.1" ry="1.3" fill="#b05a10" opacity="0.17"/>
<ellipse cx="411.5" cy="169.5" rx="2.2" ry="0.9" fill="#b05a10" opacity="0.17"/>
<path d="M381,178.4L484,178.4" stroke="#8a5a10" stroke-width="0.9" opacity="0.85"/>
<path d="M381,180.5L426,180.5" stroke="#a87a18" stroke-width="0.7" opacity="0.5"/>
<path d="M484,178.4L507,178.4" stroke="#b88a18" stroke-width="0.7" opacity="0.3"/>
<path d="M342,216.8L507,216.8" stroke="#a06a10" stroke-width="0.9" opacity="0.85"/>
<path d="M392,219.3L507,219.3" stroke="#a87a14" stroke-width="0.7" opacity="0.7"/>
<path d="M342,254.2L507,254.2" stroke="#a06a10" stroke-width="1.0" opacity="0.85"/>
<path d="M371,179L360,278" stroke="#f2e08a" stroke-width="0.7" opacity="0.55"/>
<circle cx="474.3" cy="216.6" r="0.45" fill="#8a4a0c" opacity="0.63"/>
<circle cx="402.0" cy="272.6" r="0.9" fill="#c06818" opacity="0.81"/>
<circle cx="383.8" cy="254.1" r="0.6" fill="#c06818" opacity="0.86"/>
<circle cx="403.1" cy="250.2" r="0.9" fill="#b05a10" opacity="0.61"/>
<circle cx="449.9" cy="250.1" r="0.5" fill="#b05a10" opacity="0.83"/>
<circle cx="365.3" cy="229.4" r="0.7" fill="#985010" opacity="0.45"/>
<circle cx="418.6" cy="260.8" r="0.45" fill="#c06818" opacity="0.45"/>
<circle cx="442.1" cy="260.4" r="0.7" fill="#b05a10" opacity="0.58"/>
<circle cx="349.3" cy="267.1" r="0.9" fill="#a85010" opacity="0.76"/>
<circle cx="402.8" cy="256.0" r="0.9" fill="#a85010" opacity="0.80"/>
<circle cx="440.9" cy="194.1" r="0.45" fill="#8a4a0c" opacity="0.60"/>
<circle cx="396.4" cy="218.5" r="0.35" fill="#8a4a0c" opacity="0.74"/>
<circle cx="414.0" cy="174.4" r="0.5" fill="#a85010" opacity="0.64"/>
<circle cx="470.7" cy="167.4" r="0.4" fill="#b05a10" opacity="0.56"/>
<circle cx="371.9" cy="246.4" r="0.35" fill="#b05a10" opacity="0.43"/>
<circle cx="471.4" cy="176.9" r="0.4" fill="#c06818" opacity="0.75"/>
<circle cx="391.2" cy="184.7" r="0.6" fill="#a06810" opacity="0.46"/>
<circle cx="460.3" cy="165.4" r="0.4" fill="#8a4a0c" opacity="0.47"/>
<circle cx="396.4" cy="204.9" r="0.4" fill="#a85010" opacity="0.82"/>
<circle cx="352.9" cy="263.1" r="0.6" fill="#8a4a0c" opacity="0.74"/>
<circle cx="410.7" cy="269.1" r="0.6" fill="#8a4a0c" opacity="0.89"/>
<circle cx="493.7" cy="239.4" r="0.7" fill="#a06810" opacity="0.88"/>
<circle cx="462.9" cy="250.0" r="0.4" fill="#985010" opacity="0.55"/>
<circle cx="497.4" cy="256.5" r="0.9" fill="#985010" opacity="0.67"/>
<circle cx="501.7" cy="220.1" r="0.6" fill="#985010" opacity="0.84"/>
<circle cx="435.8" cy="202.8" r="0.4" fill="#a06810" opacity="0.76"/>
<circle cx="363.3" cy="203.2" r="0.35" fill="#985010" opacity="0.68"/>
<circle cx="391.4" cy="200.9" r="0.35" fill="#c06818" opacity="0.95"/>
<circle cx="478.6" cy="157.1" r="0.9" fill="#a85010" opacity="0.65"/>
<circle cx="497.8" cy="248.6" r="0.9" fill="#a06810" opacity="0.71"/>
<circle cx="437.5" cy="261.9" r="0.45" fill="#c06818" opacity="0.42"/>
<circle cx="441.2" cy="235.0" r="0.45" fill="#b05a10" opacity="0.92"/>
<circle cx="449.2" cy="213.2" r="0.4" fill="#8a4a0c" opacity="0.53"/>
<circle cx="402.6" cy="197.4" r="0.45" fill="#a06810" opacity="0.61"/>
<circle cx="445.7" cy="160.0" r="0.4" fill="#8a4a0c" opacity="0.76"/>
<circle cx="449.3" cy="162.7" r="0.4" fill="#c06818" opacity="0.60"/>
<circle cx="402.8" cy="223.5" r="0.45" fill="#a85010" opacity="0.76"/>
<circle cx="471.3" cy="250.5" r="0.7" fill="#985010" opacity="0.72"/>
<circle cx="385.6" cy="257.5" r="0.45" fill="#a06810" opacity="0.87"/>
<circle cx="416.0" cy="231.7" r="0.5" fill="#8a4a0c" opacity="0.64"/>
<circle cx="365.2" cy="273.2" r="0.35" fill="#985010" opacity="0.79"/>
<circle cx="451.9" cy="199.3" r="0.6" fill="#a06810" opacity="0.51"/>
<circle cx="428.5" cy="227.0" r="0.9" fill="#a85010" opacity="0.68"/>
<circle cx="348.6" cy="221.9" r="0.7" fill="#985010" opacity="0.52"/>
<circle cx="446.9" cy="186.1" r="0.9" fill="#a85010" opacity="0.93"/>
<circle cx="345.3" cy="209.1" r="0.9" fill="#a85010" opacity="0.57"/>
<circle cx="347.6" cy="156.0" r="0.35" fill="#8a4a0c" opacity="0.47"/>
<circle cx="392.4" cy="193.0" r="0.35" fill="#a85010" opacity="0.58"/>
<circle cx="482.6" cy="205.7" r="0.9" fill="#b05a10" opacity="0.88"/>
<circle cx="454.3" cy="218.0" r="0.4" fill="#a06810" opacity="0.90"/>
<circle cx="466.5" cy="254.8" r="0.5" fill="#b05a10" opacity="0.63"/>
<circle cx="367.1" cy="173.0" r="0.7" fill="#8a4a0c" opacity="0.79"/>
<circle cx="495.9" cy="208.3" r="0.35" fill="#985010" opacity="0.63"/>
<circle cx="451.4" cy="275.6" r="0.45" fill="#b05a10" opacity="0.82"/>
<circle cx="394.5" cy="174.9" r="0.35" fill="#a06810" opacity="0.86"/>
<circle cx="393.5" cy="192.7" r="0.45" fill="#c06818" opacity="0.41"/>
<circle cx="472.8" cy="240.7" r="0.7" fill="#8a4a0c" opacity="0.52"/>
<circle cx="361.3" cy="249.1" r="0.9" fill="#a06810" opacity="0.49"/>
<circle cx="477.7" cy="184.3" r="0.35" fill="#a06810" opacity="0.59"/>
<circle cx="425.6" cy="262.9" r="0.7" fill="#a06810" opacity="0.90"/>
<circle cx="485.0" cy="273.2" r="0.6" fill="#a85010" opacity="0.74"/>
<circle cx="419.6" cy="182.2" r="0.9" fill="#985010" opacity="0.74"/>
<circle cx="369.4" cy="184.5" r="0.4" fill="#a06810" opacity="0.80"/>
<circle cx="440.6" cy="179.7" r="0.7" fill="#a85010" opacity="0.71"/>
<circle cx="386.5" cy="209.3" r="0.6" fill="#a85010" opacity="0.76"/>
<circle cx="460.6" cy="203.6" r="0.35" fill="#985010" opacity="0.62"/>
<circle cx="468.6" cy="169.7" r="0.5" fill="#8a4a0c" opacity="0.87"/>
<circle cx="451.6" cy="209.6" r="0.6" fill="#b05a10" opacity="0.67"/>
<circle cx="432.5" cy="262.7" r="0.4" fill="#b05a10" opacity="0.82"/>
<circle cx="497.3" cy="229.1" r="0.6" fill="#985010" opacity="0.60"/>
<circle cx="422.0" cy="225.9" r="0.6" fill="#a85010" opacity="0.46"/>
<circle cx="506.1" cy="188.8" r="0.6" fill="#b05a10" opacity="0.51"/>
<circle cx="446.1" cy="164.4" r="0.45" fill="#985010" opacity="0.61"/>
<circle cx="394.1" cy="214.5" r="0.4" fill="#a06810" opacity="0.81"/>
<circle cx="387.9" cy="269.7" r="0.35" fill="#a06810" opacity="0.86"/>
<circle cx="438.4" cy="185.2" r="0.9" fill="#c06818" opacity="0.94"/>
<circle cx="470.9" cy="162.3" r="0.9" fill="#c06818" opacity="0.76"/>
<circle cx="496.5" cy="218.9" r="0.9" fill="#8a4a0c" opacity="0.49"/>
<circle cx="362.2" cy="267.5" r="0.6" fill="#8a4a0c" opacity="0.49"/>
<circle cx="396.8" cy="190.9" r="0.6" fill="#a06810" opacity="0.74"/>
<circle cx="415.9" cy="177.5" r="0.4" fill="#8a4a0c" opacity="0.84"/>
<circle cx="489.4" cy="198.7" r="0.6" fill="#b05a10" opacity="0.77"/>
<circle cx="442.1" cy="188.8" r="0.4" fill="#c06818" opacity="0.86"/>
<circle cx="499.2" cy="212.6" r="0.45" fill="#8a4a0c" opacity="0.92"/>
<circle cx="420.9" cy="163.3" r="0.35" fill="#8a4a0c" opacity="0.87"/>
<circle cx="354.1" cy="203.3" r="0.6" fill="#b05a10" opacity="0.50"/>
<circle cx="460.3" cy="194.5" r="0.4" fill="#8a4a0c" opacity="0.51"/>
<circle cx="383.8" cy="201.4" r="0.6" fill="#985010" opacity="0.57"/>
<circle cx="429.1" cy="215.0" r="0.35" fill="#c06818" opacity="0.45"/>
<circle cx="461.9" cy="186.2" r="0.35" fill="#b05a10" opacity="0.51"/>
<circle cx="422.4" cy="224.3" r="0.35" fill="#8a4a0c" opacity="0.86"/>
<circle cx="347.5" cy="170.6" r="0.5" fill="#985010" opacity="0.77"/>
<circle cx="491.9" cy="206.8" r="0.35" fill="#a06810" opacity="0.66"/>
<circle cx="453.4" cy="206.1" r="0.4" fill="#b05a10" opacity="0.80"/>
<circle cx="381.5" cy="179.7" r="0.6" fill="#c06818" opacity="0.86"/>
<circle cx="479.5" cy="266.1" r="0.4" fill="#c06818" opacity="0.40"/>
<circle cx="488.2" cy="275.0" r="0.45" fill="#b05a10" opacity="0.84"/>
<circle cx="425.5" cy="223.6" r="0.9" fill="#a06810" opacity="0.92"/>
<circle cx="392.0" cy="182.0" r="0.35" fill="#c06818" opacity="0.46"/>
<circle cx="368.1" cy="163.2" r="0.9" fill="#a85010" opacity="0.75"/>
<circle cx="423.7" cy="261.5" r="0.6" fill="#a06810" opacity="0.45"/>
<circle cx="459.1" cy="271.6" r="0.5" fill="#a06810" opacity="0.91"/>
<circle cx="414.1" cy="214.1" r="0.4" fill="#985010" opacity="0.90"/>
<circle cx="350.2" cy="267.0" r="0.7" fill="#b05a10" opacity="0.41"/>
<circle cx="491.7" cy="199.3" r="0.7" fill="#a06810" opacity="0.41"/>
<circle cx="385.2" cy="270.5" r="0.45" fill="#b05a10" opacity="0.76"/>
<circle cx="371.8" cy="163.2" r="0.5" fill="#b05a10" opacity="0.68"/>
<circle cx="351.6" cy="263.4" r="0.45" fill="#a85010" opacity="0.54"/>
<circle cx="503.7" cy="257.9" r="0.45" fill="#c06818" opacity="0.76"/>
<circle cx="401.6" cy="165.3" r="0.9" fill="#8a4a0c" opacity="0.90"/>
<circle cx="426.1" cy="189.4" r="0.7" fill="#a06810" opacity="0.42"/>
<circle cx="346.7" cy="248.0" r="0.45" fill="#a85010" opacity="0.68"/>
<circle cx="379.9" cy="162.3" r="0.45" fill="#985010" opacity="0.68"/>
<circle cx="467.6" cy="175.2" r="0.6" fill="#985010" opacity="0.94"/>
<circle cx="472.1" cy="275.1" r="0.7" fill="#8a4a0c" opacity="0.57"/>
<circle cx="346.4" cy="188.2" r="0.9" fill="#b05a10" opacity="0.69"/>
<circle cx="444.8" cy="252.8" r="0.45" fill="#c06818" opacity="0.48"/>
<circle cx="487.9" cy="228.3" r="0.35" fill="#a85010" opacity="0.78"/>
<circle cx="460.8" cy="247.8" r="0.4" fill="#985010" opacity="0.55"/>
<circle cx="461.1" cy="236.6" r="0.45" fill="#8a4a0c" opacity="0.57"/>
<circle cx="488.5" cy="171.8" r="0.5" fill="#a06810" opacity="0.95"/>
<circle cx="456.4" cy="247.3" r="0.7" fill="#8a4a0c" opacity="0.84"/>
<circle cx="395.2" cy="165.7" r="0.45" fill="#c06818" opacity="0.82"/>
<circle cx="343.2" cy="190.2" r="0.6" fill="#b05a10" opacity="0.55"/>
<circle cx="343.0" cy="212.0" r="0.5" fill="#8a4a0c" opacity="0.88"/>
<circle cx="437.9" cy="179.7" r="0.35" fill="#8a4a0c" opacity="0.40"/>
<circle cx="474.6" cy="223.2" r="0.45" fill="#985010" opacity="0.71"/>
<circle cx="446.1" cy="249.3" r="0.6" fill="#c06818" opacity="0.92"/>
<circle cx="422.9" cy="247.0" r="0.5" fill="#8a4a0c" opacity="0.92"/>
<circle cx="427.7" cy="267.2" r="0.5" fill="#a06810" opacity="0.86"/>
<circle cx="471.4" cy="257.5" r="0.6" fill="#985010" opacity="0.63"/>
<circle cx="478.6" cy="221.6" r="0.6" fill="#8a4a0c" opacity="0.43"/>
<circle cx="429.9" cy="262.1" r="0.9" fill="#8a4a0c" opacity="0.51"/>
<circle cx="381.2" cy="174.7" r="0.5" fill="#985010" opacity="0.53"/>
<circle cx="432.8" cy="252.6" r="0.35" fill="#985010" opacity="0.53"/>
<circle cx="406.9" cy="187.0" r="0.5" fill="#985010" opacity="0.43"/>
<circle cx="444.7" cy="259.6" r="0.4" fill="#985010" opacity="0.93"/>
<circle cx="485.2" cy="174.8" r="0.4" fill="#a85010" opacity="0.85"/>
<circle cx="498.4" cy="234.3" r="0.6" fill="#c06818" opacity="0.53"/>
<circle cx="493.7" cy="167.4" r="0.7" fill="#985010" opacity="0.56"/>
<circle cx="367.7" cy="214.1" r="0.45" fill="#b05a10" opacity="0.74"/>
<circle cx="426.6" cy="187.8" r="0.9" fill="#8a4a0c" opacity="0.46"/>
<circle cx="437.8" cy="256.1" r="0.7" fill="#8a4a0c" opacity="0.43"/>
<circle cx="361.2" cy="190.0" r="0.7" fill="#985010" opacity="0.48"/>
<circle cx="499.1" cy="262.9" r="0.6" fill="#b05a10" opacity="0.88"/>
<circle cx="446.7" cy="174.8" r="0.5" fill="#b05a10" opacity="0.41"/>
<circle cx="414.6" cy="275.5" r="0.5" fill="#a85010" opacity="0.77"/>
<circle cx="401.8" cy="237.3" r="0.45" fill="#985010" opacity="0.90"/>
<circle cx="410.0" cy="188.0" r="0.5" fill="#b05a10" opacity="0.44"/>
<circle cx="396.8" cy="245.1" r="0.5" fill="#b05a10" opacity="0.65"/>
<circle cx="381.3" cy="255.5" r="0.45" fill="#a06810" opacity="0.43"/>
<circle cx="344.4" cy="249.3" r="0.35" fill="#8a4a0c" opacity="0.51"/>
<circle cx="432.3" cy="251.9" r="0.9" fill="#b05a10" opacity="0.66"/>
<circle cx="443.3" cy="171.6" r="0.5" fill="#a06810" opacity="0.87"/>
<circle cx="505.9" cy="164.4" r="0.35" fill="#c06818" opacity="0.54"/>
<circle cx="351.2" cy="268.1" r="0.35" fill="#985010" opacity="0.60"/>
<circle cx="482.9" cy="211.7" r="0.4" fill="#a85010" opacity="0.43"/>
<circle cx="380.0" cy="193.0" r="0.9" fill="#b05a10" opacity="0.64"/>
<circle cx="433.2" cy="187.2" r="0.5" fill="#8a4a0c" opacity="0.91"/>
<circle cx="361.7" cy="240.5" r="0.45" fill="#a06810" opacity="0.78"/>
<circle cx="484.5" cy="251.9" r="0.5" fill="#a06810" opacity="0.77"/>
<circle cx="426.5" cy="256.1" r="0.45" fill="#a06810" opacity="0.58"/>
<circle cx="393.2" cy="212.6" r="0.35" fill="#8a4a0c" opacity="0.54"/>
<circle cx="386.1" cy="231.9" r="0.6" fill="#b05a10" opacity="0.84"/>
<circle cx="348.3" cy="156.5" r="0.6" fill="#a85010" opacity="0.69"/>
<circle cx="416.0" cy="180.3" r="0.45" fill="#c06818" opacity="0.88"/>
<circle cx="392.6" cy="174.2" r="0.6" fill="#a06810" opacity="0.59"/>
<circle cx="385.8" cy="263.0" r="0.5" fill="#985010" opacity="0.42"/>
<circle cx="456.7" cy="157.5" r="0.4" fill="#8a4a0c" opacity="0.62"/>
<circle cx="378.3" cy="172.9" r="0.4" fill="#c06818" opacity="0.45"/>
<circle cx="494.0" cy="211.2" r="0.9" fill="#a85010" opacity="0.91"/>
<circle cx="383.4" cy="201.6" r="0.5" fill="#c06818" opacity="0.88"/>
<circle cx="498.8" cy="239.0" r="0.4" fill="#c06818" opacity="0.40"/>
<circle cx="456.1" cy="168.4" r="0.4" fill="#985010" opacity="0.81"/>
<circle cx="362.7" cy="188.8" r="0.35" fill="#b05a10" opacity="0.56"/>
<circle cx="474.4" cy="263.0" r="0.9" fill="#a06810" opacity="0.58"/>
<circle cx="411.3" cy="160.4" r="0.35" fill="#c06818" opacity="0.48"/>
<circle cx="420.5" cy="254.1" r="0.7" fill="#8a4a0c" opacity="0.65"/>
<circle cx="385.8" cy="218.2" r="0.5" fill="#985010" opacity="0.57"/>
<circle cx="395.3" cy="190.6" r="0.35" fill="#a85010" opacity="0.80"/>
<circle cx="407.0" cy="178.0" r="0.45" fill="#985010" opacity="0.42"/>
<circle cx="419.8" cy="226.2" r="0.6" fill="#c06818" opacity="0.64"/>
<circle cx="504.5" cy="173.6" r="0.4" fill="#c06818" opacity="0.87"/>
<circle cx="394.4" cy="160.4" r="0.45" fill="#c06818" opacity="0.51"/>
<circle cx="503.0" cy="263.7" r="0.6" fill="#a85010" opacity="0.83"/>
<circle cx="356.0" cy="180.6" r="0.35" fill="#b05a10" opacity="0.46"/>
<circle cx="386.7" cy="236.4" r="0.4" fill="#8a4a0c" opacity="0.42"/>
<circle cx="411.5" cy="174.1" r="0.7" fill="#985010" opacity="0.71"/>
<circle cx="409.5" cy="158.5" r="0.5" fill="#a06810" opacity="0.69"/>
<circle cx="392.1" cy="204.9" r="0.45" fill="#a06810" opacity="0.54"/>
<circle cx="415.0" cy="268.9" r="0.35" fill="#c06818" opacity="0.66"/>
<circle cx="504.5" cy="219.5" r="0.45" fill="#a85010" opacity="0.58"/>
<circle cx="456.0" cy="171.3" r="0.45" fill="#8a4a0c" opacity="0.76"/>
<circle cx="474.5" cy="165.4" r="0.6" fill="#985010" opacity="0.83"/>
<circle cx="355.3" cy="256.2" r="0.7" fill="#b05a10" opacity="0.59"/>
<circle cx="350.2" cy="215.1" r="0.7" fill="#a85010" opacity="0.79"/>
<circle cx="446.1" cy="253.7" r="0.6" fill="#985010" opacity="0.83"/>
<circle cx="400.0" cy="160.5" r="0.6" fill="#985010" opacity="0.44"/>
<circle cx="438.9" cy="215.1" r="0.6" fill="#a85010" opacity="0.81"/>
<circle cx="366.6" cy="240.1" r="0.9" fill="#c06818" opacity="0.90"/>
<circle cx="406.0" cy="182.4" r="0.7" fill="#8a4a0c" opacity="0.95"/>
<circle cx="501.5" cy="227.5" r="0.45" fill="#985010" opacity="0.48"/>
<circle cx="448.1" cy="259.4" r="0.6" fill="#b05a10" opacity="0.81"/>
<circle cx="413.0" cy="240.8" r="0.4" fill="#b05a10" opacity="0.77"/>
<circle cx="365.6" cy="176.4" r="0.35" fill="#c06818" opacity="0.58"/>
<circle cx="344.0" cy="240.6" r="0.7" fill="#c06818" opacity="0.42"/>
<circle cx="423.6" cy="171.4" r="0.6" fill="#b05a10" opacity="0.77"/>
<circle cx="361.5" cy="229.1" r="0.5" fill="#985010" opacity="0.55"/>
<circle cx="447.8" cy="255.8" r="0.6" fill="#985010" opacity="0.59"/>
<circle cx="477.1" cy="275.3" r="0.4" fill="#985010" opacity="0.89"/>
<circle cx="485.7" cy="204.2" r="0.6" fill="#a85010" opacity="0.43"/>
<circle cx="355.8" cy="256.4" r="0.5" fill="#a06810" opacity="0.76"/>
<circle cx="408.3" cy="194.7" r="0.4" fill="#8a4a0c" opacity="0.43"/>
<circle cx="367.1" cy="254.6" r="0.35" fill="#985010" opacity="0.42"/>
<circle cx="403.5" cy="217.7" r="0.4" fill="#c06818" opacity="0.65"/>
<circle cx="402.8" cy="232.8" r="0.9" fill="#a85010" opacity="0.53"/>
<circle cx="499.2" cy="229.3" r="0.6" fill="#985010" opacity="0.59"/>
<circle cx="457.6" cy="201.1" r="0.45" fill="#a85010" opacity="0.69"/>
<circle cx="498.3" cy="167.0" r="0.5" fill="#a85010" opacity="0.43"/>
<circle cx="410.5" cy="163.3" r="0.9" fill="#8a4a0c" opacity="0.55"/>
<circle cx="471.8" cy="171.9" r="0.9" fill="#c06818" opacity="0.81"/>
<circle cx="404.6" cy="165.2" r="0.7" fill="#8a4a0c" opacity="0.94"/>
<circle cx="488.1" cy="233.8" r="0.5" fill="#8a4a0c" opacity="0.77"/>
<circle cx="458.2" cy="231.2" r="0.4" fill="#c06818" opacity="0.71"/>
<circle cx="481.6" cy="200.3" r="0.35" fill="#985010" opacity="0.55"/>
<circle cx="486.3" cy="212.6" r="0.5" fill="#b05a10" opacity="0.79"/>
<circle cx="455.8" cy="241.6" r="0.4" fill="#c06818" opacity="0.50"/>
<circle cx="408.3" cy="254.9" r="0.45" fill="#a85010" opacity="0.53"/>
<circle cx="437.1" cy="163.3" r="0.9" fill="#8a4a0c" opacity="0.44"/>
<circle cx="474.0" cy="215.4" r="0.5" fill="#c06818" opacity="0.93"/>
<circle cx="502.1" cy="174.9" r="0.7" fill="#985010" opacity="0.52"/>
<circle cx="460.0" cy="212.8" r="0.7" fill="#a06810" opacity="0.73"/>
<circle cx="451.2" cy="259.4" r="0.7" fill="#a85010" opacity="0.54"/>
<circle cx="465.6" cy="230.2" r="0.6" fill="#a85010" opacity="0.79"/>
<circle cx="479.1" cy="190.8" r="0.45" fill="#8a4a0c" opacity="0.69"/>
<circle cx="358.8" cy="250.9" r="0.4" fill="#a85010" opacity="0.57"/>
<circle cx="470.8" cy="263.3" r="0.45" fill="#8a4a0c" opacity="0.47"/>
<circle cx="452.8" cy="229.7" r="0.5" fill="#b05a10" opacity="0.50"/>
<circle cx="501.5" cy="167.3" r="0.9" fill="#a85010" opacity="0.44"/>
<circle cx="429.4" cy="174.5" r="0.5" fill="#a85010" opacity="0.94"/>
</g>
<rect x="341.5" y="153.3" width="40.3" height="25.5" fill="#fff"/>
<rect x="445.7" y="249.5" width="62.60000000000002" height="29.30000000000001" fill="#fff"/>
</g>
<g id="c2">
<rect x="519.2" y="154.3" width="165.19999999999993" height="123.5" fill="#e9c916"/>
<clipPath id="cpc2"><rect x="519.2" y="154.3" width="165.19999999999993" height="123.5"/></clipPath><g clip-path="url(#cpc2)">
<rect x="519.2" y="154.3" width="165.79999999999995" height="123.5" fill="#fada18"/>
<rect x="519.2" y="154" width="68.2" height="1.0" fill="#9c7008" opacity="0.58"/>
<rect x="587.1" y="154" width="73.6" height="1.0" fill="#9c7008" opacity="0.44"/>
<rect x="660.4" y="154" width="24.9" height="1.0" fill="#9c7008" opacity="0.59"/>
<rect x="519.2" y="157" width="68.4" height="1.0" fill="#aa7410" opacity="0.55"/>
<rect x="587.3" y="157" width="98.0" height="1.0" fill="#aa7410" opacity="0.47"/>
<rect x="519.2" y="158" width="165.79999999999995" height="1" fill="#fde530" opacity="0.56"/>
<rect x="519.2" y="159" width="101.8" height="1.0" fill="#7a5608" opacity="0.41"/>
<rect x="620.7" y="159" width="64.6" height="1.0" fill="#7a5608" opacity="0.60"/>
<rect x="519.2" y="160" width="165.79999999999995" height="1" fill="#fde530" opacity="0.73"/>
<rect x="519.2" y="162" width="119.8" height="1.0" fill="#9c7008" opacity="0.84"/>
<rect x="638.7" y="162" width="26.9" height="1.0" fill="#9c7008" opacity="0.59"/>
<rect x="665.3" y="162" width="20.0" height="1.0" fill="#9c7008" opacity="0.75"/>
<rect x="519.2" y="163" width="165.79999999999995" height="1" fill="#fde530" opacity="0.46"/>
<rect x="519.2" y="165" width="75.8" height="1.0" fill="#9c7008" opacity="0.32"/>
<rect x="594.7" y="165" width="90.6" height="1.0" fill="#9c7008" opacity="0.52"/>
<rect x="519.2" y="166" width="165.79999999999995" height="1" fill="#fde530" opacity="0.61"/>
<rect x="519.2" y="167" width="32.3" height="1.0" fill="#8a6408" opacity="0.07"/>
<rect x="551.2" y="167" width="26.1" height="1.0" fill="#8a6408" opacity="0.05"/>
<rect x="576.9" y="167" width="40.6" height="1.0" fill="#8a6408" opacity="0.05"/>
<rect x="617.2" y="167" width="68.1" height="1.0" fill="#8a6408" opacity="0.12"/>
<rect x="519.2" y="168" width="165.79999999999995" height="1" fill="#fde530" opacity="0.48"/>
<rect x="519.2" y="172" width="68.9" height="1.0" fill="#9c7008" opacity="0.33"/>
<rect x="587.8" y="172" width="58.3" height="1.0" fill="#9c7008" opacity="0.63"/>
<rect x="645.8" y="172" width="39.5" height="1.0" fill="#9c7008" opacity="0.59"/>
<rect x="519.2" y="173" width="165.79999999999995" height="1" fill="#fde530" opacity="0.77"/>
<rect x="519.2" y="177" width="111.3" height="1.0" fill="#946a0a" opacity="0.58"/>
<rect x="630.2" y="177" width="55.1" height="1.0" fill="#946a0a" opacity="0.56"/>
<rect x="519.2" y="180" width="115.0" height="1.0" fill="#7a5608" opacity="0.30"/>
<rect x="633.9" y="180" width="51.4" height="1.0" fill="#7a5608" opacity="0.38"/>
<rect x="519.2" y="184" width="52.1" height="1.0" fill="#7a5608" opacity="0.31"/>
<rect x="571.0" y="184" width="37.1" height="1.0" fill="#7a5608" opacity="0.31"/>
<rect x="607.7" y="184" width="77.6" height="1.0" fill="#7a5608" opacity="0.05"/>
<rect x="519.2" y="186" width="103.4" height="1.0" fill="#9c7008" opacity="0.48"/>
<rect x="622.3" y="186" width="63.0" height="1.0" fill="#9c7008" opacity="0.68"/>
<rect x="519.2" y="188" width="43.1" height="1.0" fill="#8a6408" opacity="0.40"/>
<rect x="562.0" y="188" width="47.3" height="1.0" fill="#8a6408" opacity="0.60"/>
<rect x="609.0" y="188" width="76.3" height="1.0" fill="#8a6408" opacity="0.44"/>
<rect x="519.2" y="189" width="165.79999999999995" height="1" fill="#fde530" opacity="0.78"/>
<rect x="519.2" y="190" width="77.7" height="1.0" fill="#8a6408" opacity="0.34"/>
<rect x="596.6" y="190" width="88.7" height="1.0" fill="#8a6408" opacity="0.05"/>
<rect x="519.2" y="194" width="101.7" height="1.0" fill="#8a6408" opacity="0.05"/>
<rect x="620.6" y="194" width="24.3" height="1.0" fill="#8a6408" opacity="0.05"/>
<rect x="644.6" y="194" width="40.7" height="1.0" fill="#8a6408" opacity="0.24"/>
<rect x="519.2" y="195" width="165.79999999999995" height="1" fill="#fde530" opacity="0.36"/>
<rect x="519.2" y="197" width="107.0" height="1.0" fill="#7a5608" opacity="0.34"/>
<rect x="625.9" y="197" width="59.4" height="1.0" fill="#7a5608" opacity="0.28"/>
<rect x="519.2" y="198" width="165.79999999999995" height="1" fill="#fde530" opacity="0.30"/>
<rect x="519.2" y="200" width="72.8" height="1.0" fill="#9c7008" opacity="0.51"/>
<rect x="591.7" y="200" width="30.1" height="1.0" fill="#9c7008" opacity="0.38"/>
<rect x="621.5" y="200" width="63.8" height="1.0" fill="#9c7008" opacity="0.33"/>
<rect x="519.2" y="203" width="30.3" height="1.0" fill="#9c7008" opacity="0.52"/>
<rect x="549.2" y="203" width="33.3" height="1.0" fill="#9c7008" opacity="0.68"/>
<rect x="582.2" y="203" width="74.8" height="1.0" fill="#9c7008" opacity="0.54"/>
<rect x="656.7" y="203" width="28.6" height="1.0" fill="#9c7008" opacity="0.45"/>
<rect x="519.2" y="204" width="165.79999999999995" height="1" fill="#fde530" opacity="0.34"/>
<rect x="519.2" y="206" width="44.0" height="1.0" fill="#9c7008" opacity="0.24"/>
<rect x="562.9" y="206" width="101.8" height="1.0" fill="#9c7008" opacity="0.19"/>
<rect x="664.5" y="206" width="20.8" height="1.0" fill="#9c7008" opacity="0.22"/>
<rect x="519.2" y="209" width="48.9" height="1.0" fill="#8a6408" opacity="0.17"/>
<rect x="567.8" y="209" width="23.0" height="1.0" fill="#8a6408" opacity="0.05"/>
<rect x="590.5" y="209" width="94.8" height="1.0" fill="#8a6408" opacity="0.08"/>
<rect x="519.2" y="213" width="24.4" height="1.0" fill="#7a5608" opacity="0.16"/>
<rect x="543.3" y="213" width="99.8" height="1.0" fill="#7a5608" opacity="0.27"/>
<rect x="642.8" y="213" width="42.5" height="1.0" fill="#7a5608" opacity="0.22"/>
<rect x="519.2" y="215" width="39.2" height="1.0" fill="#7a5608" opacity="0.44"/>
<rect x="558.1" y="215" width="108.6" height="1.0" fill="#7a5608" opacity="0.53"/>
<rect x="666.4" y="215" width="18.9" height="1.0" fill="#7a5608" opacity="0.48"/>
<rect x="519.2" y="218" width="79.1" height="1.0" fill="#946a0a" opacity="0.51"/>
<rect x="598.0" y="218" width="58.2" height="1.0" fill="#946a0a" opacity="0.41"/>
<rect x="655.8" y="218" width="29.5" height="1.0" fill="#946a0a" opacity="0.61"/>
<rect x="519.2" y="219" width="165.79999999999995" height="1" fill="#fde530" opacity="0.52"/>
<rect x="519.2" y="221" width="30.7" height="1.0" fill="#8a6408" opacity="0.08"/>
<rect x="549.6" y="221" width="53.2" height="1.0" fill="#8a6408" opacity="0.37"/>
<rect x="602.5" y="221" width="82.8" height="1.0" fill="#8a6408" opacity="0.06"/>
<rect x="519.2" y="222" width="165.79999999999995" height="1" fill="#fde530" opacity="0.70"/>
<rect x="519.2" y="225" width="70.4" height="1.0" fill="#aa7410" opacity="0.72"/>
<rect x="589.3" y="225" width="60.1" height="1.0" fill="#aa7410" opacity="0.44"/>
<rect x="649.1" y="225" width="36.2" height="1.0" fill="#aa7410" opacity="0.58"/>
<rect x="519.2" y="226" width="165.79999999999995" height="1" fill="#fde530" opacity="0.35"/>
<rect x="519.2" y="230" width="105.5" height="1.0" fill="#aa7410" opacity="0.22"/>
<rect x="624.4" y="230" width="60.9" height="1.0" fill="#aa7410" opacity="0.32"/>
<rect x="519.2" y="233" width="50.8" height="1.0" fill="#8a6408" opacity="0.45"/>
<rect x="569.7" y="233" width="50.6" height="1.0" fill="#8a6408" opacity="0.44"/>
<rect x="620.0" y="233" width="65.3" height="1.0" fill="#8a6408" opacity="0.46"/>
<rect x="519.2" y="236" width="102.6" height="1.0" fill="#8a6408" opacity="0.15"/>
<rect x="621.5" y="236" width="63.8" height="1.0" fill="#8a6408" opacity="0.40"/>
<rect x="519.2" y="239" width="23.4" height="1.0" fill="#946a0a" opacity="0.39"/>
<rect x="542.3" y="239" width="75.0" height="1.0" fill="#946a0a" opacity="0.38"/>
<rect x="617.0" y="239" width="68.3" height="1.0" fill="#946a0a" opacity="0.53"/>
<rect x="519.2" y="242" width="55.4" height="1.0" fill="#9c7008" opacity="0.46"/>
<rect x="574.3" y="242" width="31.8" height="1.0" fill="#9c7008" opacity="0.66"/>
<rect x="605.7" y="242" width="79.6" height="1.0" fill="#9c7008" opacity="0.36"/>
<rect x="519.2" y="244" width="52.0" height="1.0" fill="#aa7410" opacity="0.71"/>
<rect x="570.9" y="244" width="63.6" height="1.0" fill="#aa7410" opacity="0.55"/>
<rect x="634.2" y="244" width="51.1" height="1.0" fill="#aa7410" opacity="0.45"/>
<rect x="519.2" y="245" width="165.79999999999995" height="1" fill="#fde530" opacity="0.33"/>
<rect x="519.2" y="246" width="94.1" height="1.0" fill="#7a5608" opacity="0.44"/>
<rect x="613.0" y="246" width="46.2" height="1.0" fill="#7a5608" opacity="0.57"/>
<rect x="659.0" y="246" width="26.3" height="1.0" fill="#7a5608" opacity="0.35"/>
<rect x="519.2" y="247" width="165.79999999999995" height="1" fill="#fde530" opacity="0.39"/>
<rect x="519.2" y="248" width="92.0" height="1.0" fill="#946a0a" opacity="0.47"/>
<rect x="610.9" y="248" width="74.4" height="1.0" fill="#946a0a" opacity="0.42"/>
<rect x="519.2" y="251" width="20.4" height="1.0" fill="#aa7410" opacity="0.12"/>
<rect x="539.3" y="251" width="114.9" height="1.0" fill="#aa7410" opacity="0.23"/>
<rect x="653.9" y="251" width="31.4" height="1.0" fill="#aa7410" opacity="0.40"/>
<rect x="519.2" y="252" width="165.79999999999995" height="1" fill="#fde530" opacity="0.38"/>
<rect x="519.2" y="256" width="44.2" height="1.0" fill="#7a5608" opacity="0.63"/>
<rect x="563.1" y="256" width="107.1" height="1.0" fill="#7a5608" opacity="0.48"/>
<rect x="669.9" y="256" width="15.4" height="1.0" fill="#7a5608" opacity="0.60"/>
<rect x="519.2" y="261" width="81.6" height="1.0" fill="#8a6408" opacity="0.55"/>
<rect x="600.5" y="261" width="36.1" height="1.0" fill="#8a6408" opacity="0.53"/>
<rect x="636.3" y="261" width="49.0" height="1.0" fill="#8a6408" opacity="0.55"/>
<rect x="519.2" y="262" width="165.79999999999995" height="1" fill="#fde530" opacity="0.66"/>
<rect x="519.2" y="263" width="91.9" height="1.0" fill="#946a0a" opacity="0.76"/>
<rect x="610.8" y="263" width="31.5" height="1.0" fill="#946a0a" opacity="0.45"/>
<rect x="642.0" y="263" width="23.1" height="1.0" fill="#946a0a" opacity="0.49"/>
<rect x="664.9" y="263" width="20.4" height="1.0" fill="#946a0a" opacity="0.69"/>
<rect x="519.2" y="264" width="165.79999999999995" height="1" fill="#fde530" opacity="0.36"/>
<rect x="519.2" y="268" width="94.8" height="1.0" fill="#8a6408" opacity="0.59"/>
<rect x="613.7" y="268" width="71.6" height="1.0" fill="#8a6408" opacity="0.57"/>
<rect x="519.2" y="272" width="56.8" height="1.0" fill="#aa7410" opacity="0.26"/>
<rect x="575.7" y="272" width="109.6" height="1.0" fill="#aa7410" opacity="0.29"/>
<rect x="519.2" y="274" width="118.0" height="1.0" fill="#9c7008" opacity="0.28"/>
<rect x="636.9" y="274" width="48.4" height="1.0" fill="#9c7008" opacity="0.45"/>
<rect x="519.2" y="275" width="165.79999999999995" height="1" fill="#fde530" opacity="0.62"/>
<rect x="519.2" y="276" width="40.7" height="1.0" fill="#946a0a" opacity="0.13"/>
<rect x="559.6" y="276" width="125.7" height="1.0" fill="#946a0a" opacity="0.32"/>
<rect x="519.5" y="218.5" width="165.5" height="0.9" fill="#806008" opacity="0.6"/>
<rect x="519.5" y="186" width="165.5" height="0.8" fill="#806008" opacity="0.5"/>
<rect x="519.5" y="262" width="165.5" height="0.8" fill="#806008" opacity="0.5"/>
<rect x="519.2" y="154.3" width="165.79999999999995" height="123.5" filter="url(#fl2)"/>
<ellipse cx="527.8" cy="180.7" rx="0.9" ry="0.7" fill="#5a4208" opacity="0.55"/>
<ellipse cx="632.9" cy="199.0" rx="0.8" ry="0.6" fill="#5a4208" opacity="0.30"/>
<ellipse cx="553.0" cy="197.9" rx="1.0" ry="0.5" fill="#5a4208" opacity="0.42"/>
<ellipse cx="682.5" cy="234.4" rx="0.8" ry="0.7" fill="#5a4208" opacity="0.66"/>
<ellipse cx="654.0" cy="223.2" rx="1.0" ry="0.4" fill="#5a4208" opacity="0.51"/>
<ellipse cx="584.5" cy="186.4" rx="0.8" ry="0.8" fill="#5a4208" opacity="0.41"/>
<ellipse cx="538.8" cy="196.0" rx="0.6" ry="0.4" fill="#5a4208" opacity="0.76"/>
<ellipse cx="609.9" cy="158.5" rx="0.9" ry="0.5" fill="#5a4208" opacity="0.54"/>
<ellipse cx="675.0" cy="274.2" rx="0.8" ry="0.7" fill="#5a4208" opacity="0.55"/>
<ellipse cx="533.4" cy="204.0" rx="1.1" ry="0.7" fill="#5a4208" opacity="0.66"/>
<ellipse cx="682.0" cy="201.5" rx="1.1" ry="0.7" fill="#5a4208" opacity="0.76"/>
<ellipse cx="662.8" cy="261.4" rx="0.8" ry="0.6" fill="#5a4208" opacity="0.61"/>
<ellipse cx="539.8" cy="192.7" rx="0.8" ry="0.5" fill="#5a4208" opacity="0.39"/>
<ellipse cx="627.1" cy="192.9" rx="0.5" ry="0.7" fill="#5a4208" opacity="0.77"/>
<ellipse cx="556.9" cy="238.5" rx="0.6" ry="0.5" fill="#5a4208" opacity="0.38"/>
<ellipse cx="625.3" cy="223.2" rx="1.2" ry="0.7" fill="#5a4208" opacity="0.68"/>
<ellipse cx="663.5" cy="226.2" rx="0.7" ry="0.5" fill="#5a4208" opacity="0.73"/>
<ellipse cx="654.6" cy="233.8" rx="1.3" ry="0.7" fill="#5a4208" opacity="0.50"/>
<ellipse cx="550.7" cy="207.1" rx="1.2" ry="0.8" fill="#5a4208" opacity="0.30"/>
<ellipse cx="521.4" cy="209.6" rx="1.2" ry="0.8" fill="#5a4208" opacity="0.72"/>
<ellipse cx="531.5" cy="180.3" rx="1.1" ry="0.6" fill="#5a4208" opacity="0.46"/>
<ellipse cx="677.6" cy="157.5" rx="0.9" ry="0.8" fill="#5a4208" opacity="0.65"/>
<ellipse cx="665.7" cy="188.4" rx="0.9" ry="0.8" fill="#5a4208" opacity="0.37"/>
<ellipse cx="590.7" cy="275.7" rx="0.6" ry="0.7" fill="#5a4208" opacity="0.67"/>
<ellipse cx="562.4" cy="275.6" rx="1.1" ry="0.5" fill="#5a4208" opacity="0.79"/>
<ellipse cx="664.8" cy="213.5" rx="0.5" ry="0.7" fill="#5a4208" opacity="0.59"/>
<ellipse cx="642.1" cy="165.0" rx="0.9" ry="0.7" fill="#5a4208" opacity="0.66"/>
<ellipse cx="548.6" cy="195.4" rx="0.9" ry="0.6" fill="#5a4208" opacity="0.79"/>
<ellipse cx="673.1" cy="155.5" rx="1.0" ry="0.5" fill="#5a4208" opacity="0.73"/>
<ellipse cx="606.6" cy="264.4" rx="1.2" ry="0.8" fill="#5a4208" opacity="0.38"/>
<ellipse cx="530.7" cy="249.2" rx="0.9" ry="0.7" fill="#5a4208" opacity="0.52"/>
<ellipse cx="588.1" cy="244.5" rx="0.8" ry="0.6" fill="#5a4208" opacity="0.50"/>
<ellipse cx="630.8" cy="163.9" rx="0.9" ry="0.6" fill="#5a4208" opacity="0.64"/>
<ellipse cx="668.0" cy="200.4" rx="1.3" ry="0.7" fill="#5a4208" opacity="0.49"/>
<ellipse cx="612.2" cy="199.3" rx="1.0" ry="0.4" fill="#5a4208" opacity="0.75"/>
<ellipse cx="579.1" cy="156.7" rx="0.6" ry="0.5" fill="#5a4208" opacity="0.43"/>
<ellipse cx="657.4" cy="201.0" rx="1.2" ry="0.5" fill="#5a4208" opacity="0.47"/>
<ellipse cx="676.0" cy="259.6" rx="1.2" ry="0.4" fill="#5a4208" opacity="0.33"/>
<ellipse cx="634.0" cy="196.3" rx="0.6" ry="0.4" fill="#5a4208" opacity="0.46"/>
<ellipse cx="571.0" cy="236.0" rx="1.3" ry="0.5" fill="#5a4208" opacity="0.70"/>
<ellipse cx="617.5" cy="260.6" rx="1.3" ry="0.8" fill="#5a4208" opacity="0.37"/>
<ellipse cx="641.2" cy="249.3" rx="0.8" ry="0.4" fill="#5a4208" opacity="0.68"/>
<ellipse cx="623.0" cy="247.6" rx="1.1" ry="0.7" fill="#5a4208" opacity="0.32"/>
<ellipse cx="674.4" cy="271.4" rx="0.8" ry="0.7" fill="#5a4208" opacity="0.77"/>
<ellipse cx="590.9" cy="196.1" rx="1.0" ry="0.7" fill="#5a4208" opacity="0.51"/>
<ellipse cx="634.6" cy="271.3" rx="0.8" ry="0.8" fill="#5a4208" opacity="0.37"/>
<ellipse cx="617.4" cy="256.5" rx="0.8" ry="0.5" fill="#5a4208" opacity="0.44"/>
<ellipse cx="579.8" cy="202.7" rx="0.8" ry="0.5" fill="#5a4208" opacity="0.60"/>
<ellipse cx="556.6" cy="187.2" rx="0.9" ry="0.8" fill="#5a4208" opacity="0.44"/>
<ellipse cx="550.0" cy="249.4" rx="1.0" ry="0.4" fill="#5a4208" opacity="0.79"/>
<ellipse cx="553.0" cy="232.2" rx="0.7" ry="0.7" fill="#5a4208" opacity="0.48"/>
<ellipse cx="623.2" cy="252.0" rx="1.1" ry="0.5" fill="#5a4208" opacity="0.45"/>
<ellipse cx="615.7" cy="219.1" rx="1.1" ry="0.4" fill="#5a4208" opacity="0.33"/>
<ellipse cx="520.7" cy="253.1" rx="0.6" ry="0.7" fill="#5a4208" opacity="0.53"/>
<ellipse cx="676.5" cy="232.7" rx="1.2" ry="0.4" fill="#5a4208" opacity="0.75"/>
<ellipse cx="582.7" cy="160.4" rx="1.2" ry="0.5" fill="#5a4208" opacity="0.63"/>
<ellipse cx="523.0" cy="208.7" rx="0.9" ry="0.6" fill="#5a4208" opacity="0.71"/>
<ellipse cx="567.3" cy="266.0" rx="0.6" ry="0.8" fill="#5a4208" opacity="0.44"/>
<ellipse cx="631.3" cy="268.4" rx="1.0" ry="0.7" fill="#5a4208" opacity="0.34"/>
<ellipse cx="678.6" cy="160.3" rx="1.0" ry="0.7" fill="#5a4208" opacity="0.68"/>
<ellipse cx="639.3" cy="229.0" rx="1.3" ry="0.5" fill="#5a4208" opacity="0.76"/>
<ellipse cx="652.3" cy="178.6" rx="0.9" ry="0.6" fill="#5a4208" opacity="0.37"/>
<ellipse cx="659.9" cy="259.2" rx="1.1" ry="0.4" fill="#5a4208" opacity="0.66"/>
<ellipse cx="672.2" cy="242.6" rx="1.2" ry="0.8" fill="#5a4208" opacity="0.65"/>
<ellipse cx="641.8" cy="192.1" rx="1.1" ry="0.5" fill="#5a4208" opacity="0.43"/>
<ellipse cx="574.2" cy="192.8" rx="0.5" ry="0.5" fill="#5a4208" opacity="0.44"/>
<ellipse cx="555.7" cy="157.8" rx="1.1" ry="0.7" fill="#5a4208" opacity="0.47"/>
<ellipse cx="637.0" cy="260.9" rx="0.5" ry="0.6" fill="#5a4208" opacity="0.59"/>
<ellipse cx="548.4" cy="264.8" rx="1.1" ry="0.6" fill="#5a4208" opacity="0.57"/>
<ellipse cx="656.6" cy="162.2" rx="1.2" ry="0.6" fill="#5a4208" opacity="0.45"/>
<ellipse cx="562.8" cy="221.1" rx="0.6" ry="0.7" fill="#5a4208" opacity="0.50"/>
<ellipse cx="667.1" cy="271.1" rx="1.1" ry="0.4" fill="#5a4208" opacity="0.42"/>
<ellipse cx="623.4" cy="269.7" rx="1.0" ry="0.5" fill="#5a4208" opacity="0.70"/>
<ellipse cx="596.2" cy="227.0" rx="0.9" ry="0.8" fill="#5a4208" opacity="0.61"/>
<ellipse cx="537.9" cy="233.5" rx="0.8" ry="0.5" fill="#5a4208" opacity="0.55"/>
<ellipse cx="563.7" cy="270.7" rx="0.7" ry="0.6" fill="#5a4208" opacity="0.30"/>
<ellipse cx="569.9" cy="234.5" rx="0.9" ry="0.7" fill="#5a4208" opacity="0.59"/>
<ellipse cx="620.9" cy="186.5" rx="1.2" ry="0.7" fill="#5a4208" opacity="0.31"/>
<ellipse cx="657.0" cy="175.8" rx="0.8" ry="0.7" fill="#5a4208" opacity="0.75"/>
<ellipse cx="548.2" cy="191.3" rx="0.9" ry="0.7" fill="#5a4208" opacity="0.53"/>
<ellipse cx="636.0" cy="275.7" rx="0.6" ry="0.6" fill="#5a4208" opacity="0.70"/>
<ellipse cx="653.0" cy="271.4" rx="0.8" ry="0.5" fill="#5a4208" opacity="0.63"/>
<ellipse cx="655.8" cy="252.3" rx="0.9" ry="0.5" fill="#5a4208" opacity="0.65"/>
<ellipse cx="562.1" cy="158.4" rx="0.5" ry="0.5" fill="#5a4208" opacity="0.49"/>
<ellipse cx="609.5" cy="209.5" rx="0.9" ry="0.7" fill="#5a4208" opacity="0.39"/>
<ellipse cx="651.2" cy="236.8" rx="1.1" ry="0.6" fill="#5a4208" opacity="0.57"/>
<ellipse cx="657.3" cy="235.4" rx="0.7" ry="0.7" fill="#5a4208" opacity="0.40"/>
<ellipse cx="565.3" cy="255.7" rx="0.9" ry="0.5" fill="#5a4208" opacity="0.75"/>
<ellipse cx="617.9" cy="157.6" rx="0.8" ry="0.5" fill="#5a4208" opacity="0.44"/>
<ellipse cx="638.4" cy="183.1" rx="0.6" ry="0.7" fill="#5a4208" opacity="0.59"/>
<rect x="519.2" y="154.3" width="165.79999999999995" height="123.5" fill="url(#gc2)"/>
</g>
<rect x="518.7" y="153.3" width="40.0" height="25.5" fill="#fff"/>
<rect x="622.6" y="250.1" width="62.799999999999955" height="28.700000000000017" fill="#fff"/>
</g>
<text x="349.5" y="18.8" stroke="#111" stroke-width="0.25">(b1)</text>
<text x="526.4" y="18.5" stroke="#111" stroke-width="0.25">(b2)</text>
<text x="350.0" y="171.3" stroke="#111" stroke-width="0.25">(c1)</text>
<text x="526.7" y="171.1" stroke="#111" stroke-width="0.25">(c2)</text>
<text x="453.7" y="112.7" font-size="13.7">250</text>
<text x="482.3" y="112.7" font-size="13.4">μm</text>
<path d="M454.3,119.1H501.6M454.6,115.3v7.7M501.3,115.3v7.7" stroke="#111" stroke-width="1.55" fill="none"/>
<text x="629.6999999999999" y="112.7" font-size="13.7">250</text>
<text x="658.6" y="112.7" font-size="13.4">μm</text>
<path d="M630.3,119.1H677.5M630.5999999999999,115.3v7.7M677.2,115.3v7.7" stroke="#111" stroke-width="1.55" fill="none"/>
<text x="452.9" y="266.2" font-size="13.7">250</text>
<text x="481.7" y="266.2" font-size="13.4">μm</text>
<path d="M453.5,271.8H500.8M453.8,268.0v7.7M500.5,268.0v7.7" stroke="#111" stroke-width="1.55" fill="none"/>
<text x="628.8" y="266.1" font-size="13.7">250</text>
<text x="657.8" y="266.1" font-size="13.4">μm</text>
<path d="M629.4,272.1H676.6M629.6999999999999,268.3v7.7M676.3000000000001,268.3v7.7" stroke="#111" stroke-width="1.55" fill="none"/>
<text x="455.8" y="37.6" text-anchor="middle">Traces of</text>
<text x="454.3" y="54.6" text-anchor="middle">burnishing</text>
<text x="631.4" y="37.6" text-anchor="middle">Traces of</text>
<text x="631.4" y="54.6" text-anchor="middle">boring</text>
<text x="455.8" y="176.3" text-anchor="middle">Traces of</text>
<text x="454.3" y="193.8" text-anchor="middle">burnishing</text>
<text x="631.4" y="176.3" text-anchor="middle">Traces of</text>
<text x="631.4" y="193.8" text-anchor="middle">boring</text>
<path d="M419.2,66.0L409.4,75.3" stroke="#111" stroke-width="1.4"/>
<path d="M399.6,84.6L406.0,71.7L412.8,78.9Z" fill="#111"/>
<path d="M603.0,56.4L594.0,64.9" stroke="#111" stroke-width="1.4"/>
<path d="M584.2,74.2L590.6,61.3L597.4,68.5Z" fill="#111"/>
<path d="M422.4,199.6L413.5,208.5" stroke="#111" stroke-width="1.4"/>
<path d="M404.0,218.0L410.0,204.9L417.1,212.0Z" fill="#111"/>
<path d="M598.7,199.6L589.5,208.7" stroke="#111" stroke-width="1.4"/>
<path d="M579.9,218.2L586.0,205.2L593.0,212.3Z" fill="#111"/>
<path d="M351.0,94.5V117.6H373.6" stroke="#0a0a0a" stroke-width="1.8" fill="none" stroke-linejoin="miter"/>
<path d="M351.0,84.5l5,14h-10z" fill="#0a0a0a"/>
<path d="M383.6,117.6l-15,4.8v-9.6z" fill="#0a0a0a"/>
<text transform="translate(346.5,80.9) scale(0.88,1)" font-size="14.8">Z</text>
<text transform="translate(387.9,121.4) scale(0.84,1)" font-size="14.4">Y</text>
<path d="M529.3,94.5V117.6H551.6" stroke="#0a0a0a" stroke-width="1.8" fill="none" stroke-linejoin="miter"/>
<path d="M529.3,84.5l5,14h-10z" fill="#0a0a0a"/>
<path d="M561.6,117.6l-15,4.8v-9.6z" fill="#0a0a0a"/>
<text transform="translate(524.6,80.9) scale(0.88,1)" font-size="14.8">Z</text>
<text transform="translate(566.3,121.4) scale(0.84,1)" font-size="14.4">Y</text>
<path d="M351.0,248.8V270.3H373.7" stroke="#0a0a0a" stroke-width="1.8" fill="none" stroke-linejoin="miter"/>
<path d="M351.0,238.8l5,14h-10z" fill="#0a0a0a"/>
<path d="M383.7,270.3l-15,4.8v-9.6z" fill="#0a0a0a"/>
<text transform="translate(346.5,234.4) scale(0.88,1)" font-size="14.8">Z</text>
<text transform="translate(387.9,275.5) scale(0.84,1)" font-size="14.4">Y</text>
<path d="M528.9,248.8V270.3H552.6" stroke="#0a0a0a" stroke-width="1.8" fill="none" stroke-linejoin="miter"/>
<path d="M528.9,238.8l5,14h-10z" fill="#0a0a0a"/>
<path d="M562.6,270.3l-15,4.8v-9.6z" fill="#0a0a0a"/>
<text transform="translate(524.2,234.4) scale(0.88,1)" font-size="14.8">Z</text>
<text transform="translate(566.2,275.5) scale(0.84,1)" font-size="14.4">Y</text>
</svg>
</body></html>
